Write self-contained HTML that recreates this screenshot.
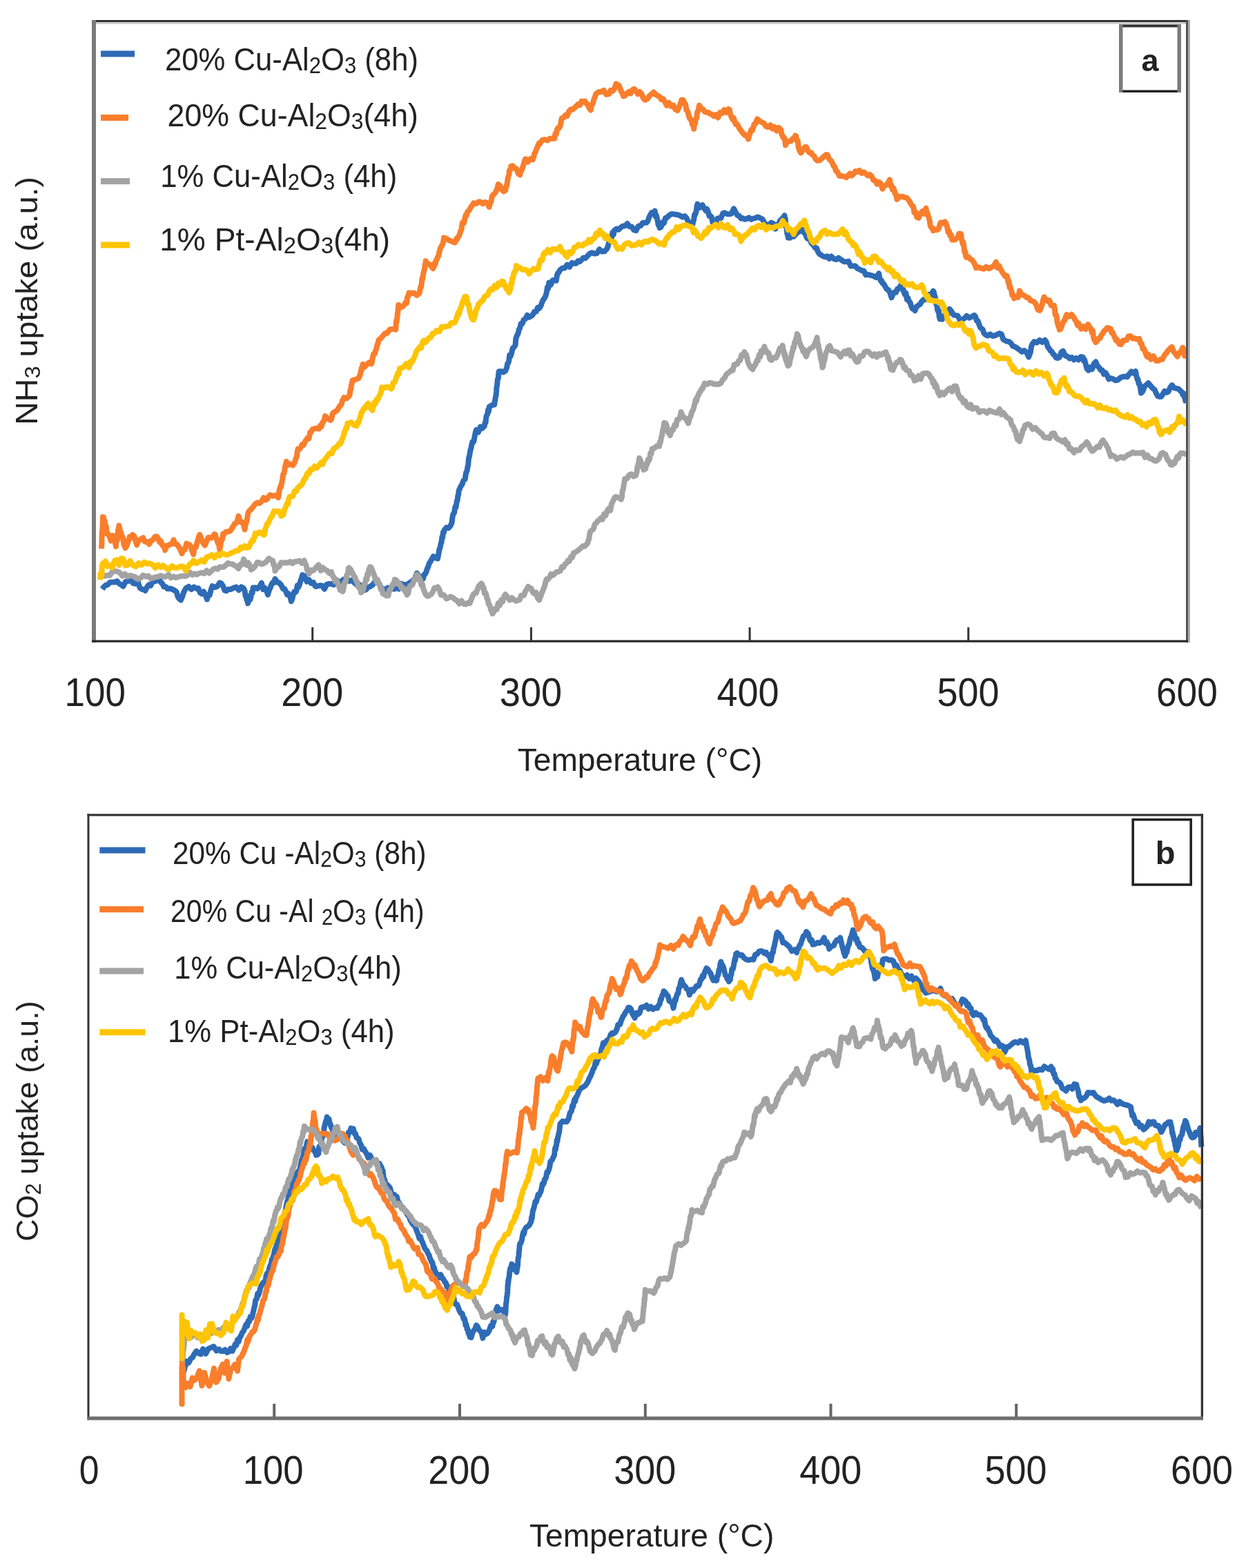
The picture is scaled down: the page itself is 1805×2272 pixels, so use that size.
<!DOCTYPE html>
<html><head><meta charset="utf-8"><title>NH3 and CO2 TPD</title>
<style>html,body{margin:0;padding:0;background:#fff;} svg{display:block;filter:blur(0.75px);}</style>
</head><body>
<svg width="1805" height="2272" viewBox="0 0 1805 2272" font-family="Liberation Sans, Arial, sans-serif" fill="#222">
<rect width="1805" height="2272" fill="#fff"/>
<polyline points="148.1,853.6 150.6,850.2 153.2,847.9 155.7,847.4 159.3,843.8 162.8,843.6 166.4,843.6 169.4,842.0 172.4,845.3 175.5,847.3 178.5,849.5 182.0,842.7 185.6,842.1 189.1,838.6 192.7,845.0 196.2,845.8 199.8,842.9 202.5,851.6 205.1,853.7 207.8,853.9 210.4,855.9 213.1,850.5 215.7,847.3 218.3,848.5 221.0,843.0 224.0,842.4 227.1,841.2 230.1,838.2 232.5,843.3 235.0,845.3 237.4,850.1 239.9,850.1 242.3,853.1 246.9,852.8 251.4,854.7 253.5,856.0 255.6,857.5 257.8,865.1 259.9,867.9 262.0,869.5 263.9,865.2 265.8,859.1 267.7,855.2 269.6,852.2 273.4,849.9 277.2,853.9 281.0,850.6 284.8,852.9 287.3,852.3 289.8,858.7 292.4,860.5 294.9,857.2 297.4,861.2 299.9,868.5 301.8,862.1 303.7,862.2 305.6,854.8 307.5,849.2 311.1,850.9 314.6,849.9 318.2,844.4 320.6,845.3 323.0,849.1 325.5,855.5 327.9,856.2 330.3,854.0 334.3,853.9 338.4,851.9 342.4,850.6 345.9,855.1 349.5,850.4 353.0,852.5 353.9,855.0 354.7,856.5 355.6,863.4 356.5,862.6 357.4,869.3 358.2,868.9 359.1,874.3 360.2,869.8 361.3,867.2 362.4,868.9 363.4,864.7 364.5,858.3 365.6,859.2 366.7,851.6 369.8,851.4 372.8,853.0 375.8,850.0 378.9,844.8 381.2,853.9 383.4,851.7 385.7,855.0 388.0,861.6 389.8,855.3 391.5,851.9 393.2,847.2 395.0,844.1 396.8,844.3 398.5,838.8 401.4,843.6 404.2,844.4 407.1,847.3 410.0,853.1 412.0,853.0 414.0,856.7 415.9,861.7 417.9,860.2 419.9,863.1 421.9,871.3 423.4,867.7 424.9,860.9 426.3,857.5 427.8,858.2 429.3,856.6 430.8,848.6 432.3,850.8 433.8,847.3 435.2,842.4 436.7,838.2 438.2,833.1 441.3,834.6 444.4,842.8 447.5,839.9 450.7,845.0 453.8,843.9 456.9,849.7 460.2,849.3 463.4,848.3 466.7,848.7 470.0,853.5 473.3,846.9 476.7,845.9 480.0,846.0 483.3,847.3 486.7,845.1 490.0,842.1 493.4,845.8 496.7,840.3 500.1,838.4 503.4,839.4 506.3,842.1 509.2,840.9 512.1,843.1 515.0,845.9 518.0,848.7 520.9,847.2 523.8,850.2 526.7,855.3 530.0,854.5 533.2,850.9 536.5,849.7 539.7,847.6 543.0,843.2 546.1,844.0 549.2,845.5 552.4,853.1 555.5,853.2 558.6,856.6 561.7,851.7 565.0,854.9 568.2,852.9 571.5,853.6 574.7,849.8 578.0,853.4 581.1,845.6 584.3,847.3 587.4,847.1 590.5,846.7 593.7,844.1 596.8,842.4 599.1,839.9 601.5,837.6 603.8,830.6 606.9,834.3 609.9,837.3 613.0,838.5 614.5,832.3 616.0,831.6 617.4,828.9 618.9,823.8 620.4,821.0 621.8,816.1 623.3,814.3 624.8,811.3 627.9,806.2 630.9,808.5 634.0,809.4 634.8,805.5 635.6,801.3 636.4,795.9 637.2,795.1 638.0,790.9 638.8,786.8 639.5,786.4 640.3,778.2 641.1,779.6 641.9,771.6 642.7,772.3 643.5,768.4 646.6,764.3 649.7,765.2 652.8,761.5 653.7,759.1 654.5,757.9 655.4,750.2 656.3,745.3 657.2,744.1 658.0,743.4 658.9,737.0 659.8,733.6 660.5,735.3 661.2,730.3 661.9,725.6 662.6,725.3 663.3,718.2 664.0,717.2 664.7,710.8 665.4,709.1 666.1,708.4 666.8,705.8 669.1,702.5 671.5,696.1 673.8,694.4 674.4,689.3 675.1,684.8 675.7,684.0 676.3,683.0 676.9,679.8 677.6,675.6 678.2,674.0 678.8,666.1 679.4,662.2 680.1,660.8 680.7,656.3 681.3,652.7 681.9,650.7 682.6,648.9 683.2,644.8 684.3,640.4 685.5,640.8 686.6,638.7 687.7,631.9 688.9,626.2 690.0,622.8 693.0,626.2 695.9,618.3 698.8,620.5 701.8,617.3 702.7,612.3 703.5,612.3 704.4,603.9 705.3,601.4 706.2,600.4 707.0,594.2 707.9,596.5 708.8,589.2 712.3,587.4 715.8,585.6 716.3,586.3 716.7,581.8 717.2,579.8 717.7,576.7 718.1,574.5 718.6,572.2 719.1,567.1 719.5,560.5 720.0,559.1 720.5,553.8 720.9,549.4 721.4,549.3 721.9,547.7 722.3,540.8 722.8,538.2 725.9,537.9 729.1,539.5 732.2,537.5 733.2,534.8 734.2,532.5 735.2,526.6 736.2,526.0 737.2,523.4 738.2,514.5 739.2,516.9 741.0,512.0 742.7,504.5 744.5,503.2 746.2,500.9 746.7,499.3 747.1,492.3 747.5,490.1 748.0,488.8 749.3,485.3 750.6,483.3 751.9,477.1 753.2,475.4 754.6,469.4 755.9,469.9 757.2,467.6 758.5,463.5 761.1,462.1 763.8,456.8 766.4,459.6 769.0,458.3 771.6,456.4 774.3,451.5 776.9,451.4 779.0,445.6 781.1,446.9 783.2,444.0 785.3,437.9 787.4,433.5 788.5,432.5 789.7,429.9 790.8,428.0 791.9,422.7 793.0,416.2 794.2,418.1 795.3,409.6 797.9,412.7 800.5,406.4 803.2,405.6 805.8,406.7 806.9,399.1 807.9,396.0 809.0,395.4 810.0,393.7 811.1,391.3 814.6,388.5 818.1,388.5 821.6,383.6 825.1,386.8 828.6,380.9 832.1,381.8 834.7,381.8 837.3,378.1 840.0,379.0 842.6,376.2 845.2,373.4 848.4,374.0 851.5,370.4 854.7,367.2 857.8,366.1 861.0,367.6 864.7,367.0 868.4,361.2 872.0,364.5 875.7,364.2 879.4,360.2 880.7,357.2 882.0,351.4 883.3,350.4 884.6,346.9 886.0,344.3 887.3,337.1 888.6,340.3 889.9,333.9 893.1,331.5 896.2,332.7 899.4,329.5 902.5,327.4 905.7,327.2 908.8,324.0 912.0,328.3 915.1,328.5 918.3,333.2 921.4,334.1 924.7,327.7 928.0,327.1 931.2,322.7 934.5,322.8 936.4,322.8 938.3,320.8 940.2,315.3 942.0,311.5 943.9,308.1 945.8,308.3 947.7,307.8 948.7,305.7 949.7,313.4 950.7,311.5 951.7,316.0 952.6,319.5 953.6,325.9 954.6,326.7 955.6,330.2 957.7,328.9 959.8,322.2 961.8,323.3 963.9,316.0 966.0,315.5 969.4,312.0 972.9,309.9 976.3,310.4 979.4,310.8 982.6,311.4 985.7,312.7 988.9,314.6 992.0,313.1 994.6,316.0 997.2,321.6 999.9,324.3 1002.5,326.2 1003.4,325.2 1004.3,320.3 1005.1,318.8 1006.0,311.3 1006.9,311.5 1007.8,308.8 1008.6,306.2 1009.5,299.0 1010.4,295.7 1013.9,300.8 1017.5,296.9 1021.0,303.1 1022.6,305.3 1024.3,303.1 1025.9,306.8 1027.5,313.0 1029.2,312.8 1030.8,314.7 1032.5,322.6 1034.1,322.8 1036.7,323.1 1039.3,316.4 1041.9,316.1 1044.6,315.8 1047.2,309.1 1049.8,308.2 1053.1,310.1 1056.4,310.3 1059.7,309.4 1063.0,302.3 1065.6,307.6 1068.2,311.9 1070.8,312.8 1073.5,316.7 1076.1,316.0 1078.7,317.8 1081.9,317.0 1085.0,315.4 1088.2,317.9 1091.3,316.6 1094.5,315.9 1097.8,314.3 1101.0,315.9 1104.3,317.4 1107.6,323.0 1110.8,325.6 1113.9,326.7 1117.1,322.6 1120.2,324.0 1123.4,331.6 1125.6,325.6 1127.8,325.1 1130.0,319.5 1132.1,317.8 1134.3,315.5 1136.5,312.3 1137.0,316.9 1137.6,316.3 1138.1,324.4 1138.6,328.8 1139.2,327.7 1139.7,332.9 1140.2,338.3 1140.7,339.4 1141.3,341.4 1141.8,344.6 1144.4,344.7 1147.1,339.1 1149.7,342.8 1152.3,340.0 1154.9,337.1 1157.6,335.9 1160.2,332.1 1162.4,333.2 1164.6,337.1 1166.8,339.1 1168.9,344.9 1171.1,346.4 1173.3,345.3 1175.3,352.3 1177.2,353.8 1179.2,356.7 1181.2,359.6 1183.1,359.4 1185.1,365.4 1187.0,367.9 1189.0,369.3 1192.1,371.1 1195.1,372.4 1198.2,371.3 1201.3,374.7 1204.3,371.6 1207.4,374.7 1211.1,376.1 1214.8,373.6 1218.4,376.4 1222.1,378.9 1225.8,379.3 1229.1,378.6 1232.4,385.4 1235.7,385.5 1239.0,385.2 1242.1,389.1 1245.1,390.3 1248.2,391.8 1251.3,392.5 1254.3,398.4 1257.4,397.8 1261.3,398.8 1265.2,399.9 1269.2,402.1 1273.1,396.3 1274.5,403.2 1275.9,407.0 1277.2,406.7 1278.6,410.6 1280.0,411.1 1282.3,415.0 1284.6,419.0 1286.9,420.0 1289.2,423.9 1291.5,431.2 1293.7,426.1 1295.9,423.2 1298.0,423.7 1300.2,418.3 1302.4,418.6 1304.6,413.5 1306.1,417.8 1307.7,415.9 1309.2,422.5 1310.7,426.6 1312.3,424.8 1313.8,433.9 1315.3,431.8 1316.9,436.9 1318.4,438.0 1319.9,443.2 1321.5,447.1 1323.0,446.4 1325.4,450.1 1327.9,444.2 1330.3,442.6 1332.8,440.8 1335.2,436.9 1338.0,433.9 1340.8,434.0 1343.6,430.9 1346.3,426.5 1349.1,427.0 1351.9,421.7 1352.8,423.1 1353.7,427.9 1354.5,429.8 1355.4,433.9 1356.3,441.2 1357.2,442.1 1358.0,448.8 1358.9,451.1 1359.8,449.6 1360.7,459.3 1361.5,462.2 1362.4,459.6 1365.0,462.6 1367.7,456.8 1370.3,454.5 1373.0,455.2 1375.6,447.7 1378.5,451.6 1381.4,456.4 1384.3,456.9 1387.2,457.2 1390.1,462.7 1393.0,463.6 1396.7,461.6 1400.3,457.7 1404.0,460.7 1407.6,459.0 1411.3,456.8 1413.1,458.7 1414.8,464.8 1416.6,465.0 1418.3,470.1 1420.1,474.6 1421.8,476.0 1423.6,477.6 1425.3,482.7 1427.1,484.6 1430.8,486.5 1434.5,484.3 1438.1,486.9 1441.8,486.1 1445.5,484.1 1448.1,483.0 1450.8,484.4 1453.4,491.9 1456.0,493.4 1458.6,494.6 1461.3,495.0 1463.9,496.6 1467.2,501.4 1470.5,502.6 1473.7,504.7 1477.0,507.0 1480.3,509.8 1483.6,507.9 1486.9,510.3 1490.2,517.3 1491.5,513.8 1492.8,510.4 1494.1,501.7 1495.4,498.7 1496.7,497.1 1498.0,495.1 1502.0,496.4 1505.9,492.9 1509.8,495.9 1513.8,492.7 1515.8,495.7 1517.8,502.7 1519.7,504.8 1521.7,508.3 1523.7,509.5 1525.6,513.2 1527.6,514.3 1529.6,518.1 1532.2,518.9 1534.8,517.6 1537.4,510.4 1540.0,508.7 1543.2,515.5 1546.3,516.4 1549.5,519.5 1552.6,517.8 1555.8,521.4 1559.1,518.9 1562.4,521.4 1565.7,517.0 1569.0,517.6 1570.1,522.9 1571.2,521.4 1572.3,525.9 1573.5,530.3 1574.6,534.5 1575.7,534.1 1576.8,536.7 1579.5,532.2 1582.1,534.9 1584.8,526.9 1587.4,524.3 1589.7,530.2 1592.1,532.3 1594.4,536.3 1596.7,536.3 1599.1,542.1 1601.4,540.0 1603.7,543.6 1606.1,549.3 1608.4,548.0 1612.1,548.9 1615.8,551.2 1619.4,550.5 1623.1,547.2 1626.8,545.7 1629.8,545.4 1632.9,546.1 1635.9,541.9 1639.0,538.5 1642.0,540.8 1645.1,538.1 1646.0,543.7 1646.9,547.0 1647.7,550.0 1648.6,550.0 1649.5,555.7 1650.4,555.5 1651.2,558.8 1652.1,562.6 1653.0,569.5 1655.6,566.6 1658.2,559.5 1660.9,557.7 1663.5,555.1 1665.8,557.7 1668.0,560.5 1670.3,563.1 1672.5,564.4 1674.8,569.6 1677.0,573.8 1679.3,574.7 1681.9,574.8 1684.6,571.1 1687.2,566.6 1689.8,568.7 1692.4,567.6 1695.1,561.7 1697.7,558.1 1701.0,562.1 1704.2,562.9 1707.5,563.7 1710.8,567.1 1712.1,568.0 1713.4,572.1 1714.8,570.1 1716.1,576.5 1717.4,581.2 1718.7,582.3" fill="none" stroke="#2e6bb6" stroke-width="8" stroke-linejoin="round" stroke-linecap="butt"/>
<polyline points="147.0,795.0 147.1,791.5 147.3,790.5 147.4,787.4 147.6,777.9 147.7,773.1 147.9,774.2 148.0,769.8 148.1,773.0 148.3,768.4 148.4,764.1 148.6,760.3 148.7,758.4 148.9,749.0 149.0,749.3 150.0,749.5 150.9,761.9 151.9,755.2 152.8,767.9 153.8,762.5 154.7,773.3 155.7,772.6 158.1,775.9 160.6,783.6 163.0,776.1 165.5,779.1 167.9,791.8 168.5,783.6 169.2,775.4 169.8,782.9 170.5,776.8 171.1,767.9 171.8,766.7 172.4,761.5 173.4,766.1 174.4,771.6 175.4,771.8 176.4,778.8 177.5,777.8 178.5,782.0 179.5,789.8 180.5,790.3 181.5,793.8 183.0,791.8 184.6,787.7 186.1,783.8 187.6,778.2 189.1,779.7 190.7,778.0 192.2,774.8 193.4,776.1 194.6,777.3 195.8,780.7 197.0,786.3 198.2,789.5 200.5,783.4 202.8,781.9 205.0,780.5 207.3,779.3 209.3,784.3 211.4,785.3 213.4,785.1 216.1,788.4 218.8,783.6 221.6,782.1 224.3,777.9 227.0,777.2 229.0,780.0 231.1,785.6 233.1,784.1 235.1,790.2 237.2,790.7 239.2,797.2 241.6,790.6 244.1,790.1 246.5,788.5 249.0,788.4 251.4,782.3 253.8,787.8 256.2,788.8 258.7,792.0 261.1,796.1 263.5,802.1 265.8,795.8 268.1,796.0 270.3,787.6 272.6,789.7 274.5,789.3 276.4,791.5 278.3,798.7 280.2,803.2 281.5,793.8 282.8,792.3 284.1,792.5 285.4,786.4 286.7,782.4 288.0,777.6 289.3,774.6 291.8,781.5 294.4,787.1 296.9,790.2 299.2,784.5 301.5,779.0 303.8,778.7 306.0,779.6 308.3,777.6 310.6,774.0 311.9,774.6 313.1,779.9 314.4,782.8 315.7,787.2 316.9,788.0 318.2,795.9 319.2,792.0 320.2,783.5 321.2,780.8 322.2,781.2 323.2,773.6 324.2,774.6 327.2,770.6 330.3,770.6 333.3,769.5 336.4,765.1 338.2,762.2 340.0,758.7 341.9,758.3 343.7,755.0 345.5,747.9 347.3,755.7 349.1,755.3 351.0,756.8 352.8,760.8 354.6,767.3 355.4,761.2 356.1,758.4 356.9,757.2 357.6,754.2 358.4,749.6 359.2,744.1 359.9,742.0 360.7,740.9 363.7,737.9 366.8,734.2 369.8,730.3 372.8,728.2 375.9,729.2 378.9,726.5 381.9,721.2 385.0,724.4 387.2,722.9 389.3,719.3 391.5,717.1 395.4,718.7 399.3,717.7 403.2,721.0 404.0,714.9 404.8,709.7 405.5,708.2 406.3,704.7 407.1,705.6 407.9,700.7 408.7,696.4 409.4,693.7 410.2,687.0 411.0,686.6 411.8,684.4 412.6,679.1 413.3,674.8 414.1,672.6 414.9,668.8 418.0,673.6 421.1,672.2 424.2,674.2 425.3,672.4 426.3,671.7 427.4,668.8 428.4,664.8 429.5,663.4 430.5,656.2 431.6,650.6 433.6,651.2 435.7,648.4 437.7,644.0 439.7,644.8 441.8,640.1 443.8,636.8 445.6,634.4 447.4,635.5 449.3,626.1 451.1,625.5 452.9,621.9 457.4,620.6 462.0,621.4 463.8,616.7 465.6,618.1 467.4,611.9 469.2,609.9 471.0,602.9 474.9,606.5 478.7,608.9 480.2,607.1 481.7,599.7 483.2,597.7 484.7,597.0 488.5,594.6 492.3,588.1 493.5,587.2 494.7,585.7 496.0,580.2 497.2,579.0 498.4,575.9 502.2,577.3 506.0,573.7 506.8,571.0 507.5,565.2 508.2,564.2 509.0,557.9 509.8,555.5 510.5,551.1 515.0,549.9 519.6,548.0 520.6,545.1 521.6,543.7 522.7,538.2 523.7,533.3 524.7,534.9 525.7,527.8 528.8,531.1 531.8,527.7 534.9,525.1 537.9,527.2 539.0,524.4 540.0,517.4 541.1,513.1 542.1,513.5 543.2,511.9 544.3,507.3 545.3,505.4 546.4,499.9 547.4,498.2 548.5,492.8 550.9,491.0 553.3,488.1 555.8,485.4 558.2,482.8 560.6,482.8 564.7,477.5 568.7,476.7 572.8,476.0 573.2,477.6 573.7,471.2 574.1,464.6 574.6,466.6 575.0,463.5 575.5,459.8 575.9,453.4 576.4,452.6 576.8,446.3 577.3,441.8 580.9,445.3 584.4,443.5 588.0,437.7 589.1,439.3 590.2,430.4 591.4,429.3 592.5,424.3 596.3,425.0 600.1,424.6 603.9,427.9 607.7,424.7 608.3,420.8 608.9,417.6 609.5,415.3 610.1,415.9 610.7,411.0 611.3,404.4 611.9,405.1 612.5,401.0 613.1,397.2 613.7,394.6 614.3,392.2 614.9,390.1 615.5,384.9 616.1,382.6 616.7,378.3 619.3,382.0 622.0,383.0 624.6,385.8 627.2,389.1 628.3,387.5 629.5,381.5 630.6,382.9 631.7,376.9 632.8,376.4 634.0,372.3 635.1,371.1 636.2,366.2 637.4,361.5 638.5,358.4 639.6,356.7 640.7,354.7 641.9,352.3 643.0,344.5 646.1,345.6 649.3,347.5 652.4,348.9 655.6,350.2 658.7,351.5 659.9,349.9 661.2,345.9 662.4,346.6 663.6,343.0 664.8,342.2 666.1,339.0 667.3,334.4 668.5,332.6 669.7,323.2 671.0,321.4 672.2,323.0 673.4,316.8 674.6,311.8 675.9,312.4 677.1,307.0 679.4,305.2 681.6,301.0 683.9,297.9 686.1,294.2 688.4,295.1 690.6,294.8 692.9,292.4 696.0,292.5 699.2,295.2 702.3,292.9 705.5,294.0 708.6,299.9 710.1,294.5 711.5,291.7 713.0,284.1 714.5,282.3 715.9,280.8 717.4,279.3 718.9,276.7 720.3,273.1 721.8,267.0 724.4,269.3 727.0,274.5 729.7,277.4 732.3,275.9 733.0,270.6 733.7,270.2 734.5,266.2 735.2,261.7 735.9,257.4 736.6,255.1 737.3,253.3 738.0,246.7 738.8,246.2 739.5,245.6 740.2,240.9 742.8,240.2 745.4,243.9 748.1,244.4 750.7,251.4 753.3,253.3 754.4,247.2 755.6,246.7 756.7,244.0 757.8,240.9 758.9,236.5 760.1,233.0 761.2,230.3 764.7,234.7 768.2,230.1 771.7,231.3 773.0,227.7 774.3,222.5 775.6,220.8 777.0,216.1 778.3,213.7 779.6,210.7 780.9,207.3 782.2,208.0 785.7,202.8 789.2,202.1 792.7,203.5 796.2,200.8 799.7,200.8 803.2,200.8 804.5,193.6 805.8,194.4 807.1,187.3 808.5,185.0 809.8,185.5 811.1,183.5 812.4,178.1 813.7,171.4 816.3,170.5 819.0,166.9 821.6,168.0 824.2,161.3 826.9,158.4 829.5,158.7 832.1,156.5 834.7,154.0 837.4,151.1 840.0,152.2 842.6,146.6 845.2,147.7 847.3,146.6 849.4,149.7 851.5,151.6 853.6,156.6 855.7,159.5 856.8,152.7 858.0,151.2 859.1,149.2 860.2,144.3 861.3,142.0 862.5,138.4 863.6,135.7 867.3,133.2 871.0,132.9 874.6,131.0 878.3,136.9 882.0,136.2 884.6,130.8 887.2,132.1 889.9,129.0 892.5,121.3 895.1,123.3 896.2,123.5 897.4,125.7 898.5,128.4 899.6,132.4 900.7,133.0 901.9,135.9 903.0,139.4 905.6,138.5 908.3,135.3 910.9,132.9 913.5,135.5 916.2,130.3 918.8,128.8 921.4,131.8 924.0,136.2 926.6,133.0 929.3,135.8 931.9,142.3 934.5,144.8 937.6,143.4 940.7,139.1 943.8,136.4 946.9,133.6 950.0,137.0 952.6,138.6 955.3,139.8 957.9,144.1 960.5,143.1 963.2,147.6 965.8,152.8 968.9,148.9 972.1,153.9 975.2,152.5 978.4,158.5 981.5,160.1 983.5,155.5 985.5,150.8 987.4,144.7 989.4,144.7 990.6,146.8 991.8,150.1 993.0,150.9 994.3,159.7 995.5,160.0 996.7,163.3 997.9,168.2 999.1,171.6 1000.3,172.2 1001.6,175.2 1002.8,180.3 1004.0,180.1 1005.2,186.7 1006.0,177.6 1006.8,179.7 1007.5,174.7 1008.3,172.2 1009.1,171.6 1009.9,163.2 1010.7,161.3 1011.4,160.8 1012.2,157.3 1013.0,152.7 1015.6,156.7 1018.3,158.3 1020.9,161.9 1023.5,162.8 1026.2,163.1 1028.8,164.9 1031.5,165.8 1034.1,168.4 1037.1,166.0 1040.1,170.5 1043.1,162.9 1046.1,164.2 1049.1,159.1 1052.1,162.9 1055.1,158.0 1056.6,158.6 1058.1,166.0 1059.6,169.2 1061.1,173.0 1062.6,170.9 1064.1,175.1 1065.6,179.9 1067.9,179.9 1070.2,184.5 1072.5,188.0 1074.8,191.0 1077.1,194.1 1079.4,196.3 1081.7,195.7 1084.0,201.5 1085.5,196.4 1086.9,191.7 1088.4,187.8 1089.8,189.0 1091.3,184.3 1092.7,179.6 1094.2,179.4 1095.6,175.9 1097.1,172.4 1100.3,175.6 1103.4,177.0 1106.6,178.5 1109.7,183.2 1112.9,184.2 1116.0,181.3 1119.0,186.6 1122.1,184.1 1125.2,189.6 1128.2,185.0 1131.3,188.1 1132.4,195.2 1133.5,196.4 1134.6,199.7 1135.8,199.3 1136.9,201.7 1138.0,210.4 1139.1,207.3 1141.3,205.5 1143.5,204.6 1145.7,204.6 1147.9,201.1 1150.1,200.6 1152.3,196.5 1153.2,197.4 1154.1,203.8 1154.9,203.0 1155.8,204.4 1156.7,213.8 1157.6,216.5 1158.4,218.2 1159.3,220.2 1160.2,221.5 1162.2,219.0 1164.1,215.3 1166.0,212.9 1168.0,212.9 1170.3,218.3 1172.5,221.2 1174.8,220.9 1177.0,224.6 1179.3,225.9 1181.5,230.6 1183.8,232.7 1187.1,232.6 1190.3,229.8 1193.6,226.7 1196.9,224.1 1198.7,224.2 1200.4,229.1 1202.2,231.9 1203.9,232.8 1205.7,236.0 1207.4,240.4 1209.2,241.7 1210.9,247.6 1212.7,248.5 1216.0,255.0 1219.2,254.9 1222.5,255.7 1225.8,257.2 1228.4,254.8 1231.1,251.4 1233.7,254.4 1236.4,252.0 1239.0,248.1 1242.0,249.2 1245.0,246.9 1248.0,250.8 1251.0,249.3 1254.0,251.5 1257.0,254.5 1260.0,252.8 1262.6,255.4 1265.3,261.1 1267.9,261.6 1270.5,266.6 1273.1,263.9 1275.8,265.7 1278.4,273.7 1281.0,269.5 1283.7,268.1 1286.3,265.2 1288.9,260.5 1290.2,269.1 1291.5,268.8 1292.8,274.5 1294.2,272.3 1295.5,276.1 1296.8,280.9 1298.1,281.8 1299.4,288.9 1303.1,285.4 1306.8,284.7 1310.4,285.8 1314.1,287.0 1317.8,292.1 1319.1,295.0 1320.4,296.8 1321.7,298.5 1323.0,299.1 1324.4,307.8 1325.7,306.3 1327.0,310.1 1328.3,315.0 1330.9,315.8 1333.5,309.0 1336.2,306.1 1338.8,309.8 1341.4,301.6 1342.5,309.6 1343.5,308.8 1344.6,313.0 1345.6,315.5 1346.7,320.2 1347.7,326.7 1348.8,329.3 1349.8,330.3 1350.9,330.4 1351.9,334.2 1354.5,332.4 1357.2,333.2 1359.8,331.4 1362.4,322.7 1365.1,322.2 1367.7,323.8 1369.2,321.5 1370.6,324.3 1372.1,328.7 1373.5,336.2 1375.0,335.1 1376.4,341.5 1377.9,340.6 1379.3,347.5 1380.8,347.3 1382.9,347.6 1385.0,346.0 1387.1,344.3 1389.2,338.6 1391.3,339.7 1392.1,339.1 1392.9,346.1 1393.7,349.3 1394.5,353.2 1395.3,350.4 1396.0,354.9 1396.8,361.2 1397.6,365.8 1398.4,364.9 1399.2,371.7 1400.0,373.0 1402.8,372.2 1405.6,375.2 1408.4,377.1 1411.2,381.0 1414.0,388.2 1417.7,387.0 1421.4,388.8 1425.0,389.7 1428.7,386.7 1432.4,389.2 1435.9,387.2 1439.4,385.7 1442.9,379.8 1445.1,387.9 1447.4,385.5 1449.6,390.1 1451.9,394.4 1454.1,397.4 1456.4,400.6 1458.6,399.7 1459.6,402.7 1460.5,408.8 1461.5,407.2 1462.4,416.0 1463.4,415.3 1464.3,418.9 1465.3,421.5 1466.2,427.3 1467.2,426.8 1468.1,429.6 1469.1,432.3 1471.1,430.1 1473.0,430.8 1475.0,430.7 1477.0,421.3 1479.6,426.3 1482.3,427.5 1484.9,429.0 1487.5,431.1 1490.1,431.4 1492.8,435.4 1495.4,436.2 1498.0,437.4 1500.7,440.6 1503.3,448.6 1505.9,449.8 1507.2,448.5 1508.5,444.3 1509.8,440.8 1511.2,434.2 1512.5,430.4 1513.8,433.3 1516.0,433.9 1518.2,436.7 1520.4,435.4 1522.6,442.5 1524.8,443.3 1527.0,442.9 1527.8,447.1 1528.6,455.7 1529.3,456.8 1530.1,456.6 1530.9,459.9 1531.7,467.9 1532.5,468.6 1533.2,472.8 1534.0,473.9 1534.8,477.6 1536.3,476.8 1537.8,473.3 1539.3,468.7 1540.8,465.4 1542.3,464.4 1543.8,459.2 1545.3,455.8 1548.8,458.6 1552.3,455.7 1555.8,460.4 1557.5,463.7 1559.3,466.3 1561.0,471.1 1562.8,468.8 1564.5,473.6 1566.3,476.6 1569.6,473.0 1572.9,477.0 1576.2,470.2 1579.5,475.3 1580.6,476.6 1581.8,482.0 1582.9,479.1 1584.0,488.2 1585.1,492.0 1586.3,494.1 1587.4,496.1 1589.4,494.0 1591.5,490.2 1593.5,490.1 1595.5,485.6 1597.6,482.8 1599.6,479.2 1601.6,478.1 1603.7,475.2 1605.7,475.0 1607.3,476.7 1608.9,476.6 1610.4,482.1 1612.0,481.7 1613.6,486.3 1615.2,489.5 1616.8,493.7 1618.3,492.1 1619.9,495.5 1621.5,498.6 1624.1,499.0 1626.7,493.3 1629.4,493.3 1632.0,492.9 1634.6,487.2 1637.8,486.9 1640.9,490.5 1644.1,490.3 1647.2,491.5 1650.4,490.8 1652.0,497.2 1653.7,497.8 1655.3,505.1 1657.0,504.8 1658.6,509.0 1660.2,513.6 1661.9,516.9 1663.5,513.3 1667.2,520.6 1670.9,516.0 1674.5,522.8 1678.2,522.8 1681.9,520.2 1683.8,520.7 1685.6,517.1 1687.5,513.7 1689.4,512.2 1691.3,508.5 1693.1,507.2 1695.0,504.8 1697.7,502.8 1700.3,509.7 1702.9,512.8 1705.6,516.5 1708.2,511.6 1710.8,509.0 1713.4,503.7 1714.7,507.3 1716.1,515.3 1717.4,512.9 1718.7,519.2" fill="none" stroke="#f97e2c" stroke-width="8" stroke-linejoin="round" stroke-linecap="butt"/>
<polyline points="145.0,835.4 148.6,832.7 152.1,834.6 155.7,833.6 159.3,833.7 162.8,828.2 166.4,827.5 170.0,828.1 173.7,829.9 177.3,834.6 181.0,831.7 184.6,835.6 188.4,833.8 192.2,834.8 196.0,836.1 199.8,839.2 203.6,837.6 207.4,833.6 211.1,835.4 214.9,834.5 218.5,838.5 222.2,837.2 225.8,836.2 229.5,835.4 233.1,834.0 236.8,836.0 240.4,835.5 244.1,832.5 247.7,837.2 251.4,835.3 255.0,837.1 258.7,835.8 262.3,834.9 266.0,834.5 269.6,834.9 272.6,832.6 275.6,829.7 278.7,833.0 281.7,831.3 285.2,832.6 288.8,830.6 292.4,829.7 295.9,831.0 299.4,826.8 303.0,830.5 306.0,827.7 309.1,824.7 312.1,823.6 315.2,824.6 318.2,821.5 321.2,821.7 324.2,821.5 327.3,818.8 330.3,815.8 333.3,817.0 336.4,817.2 339.4,819.1 342.4,820.7 345.5,823.8 347.4,818.4 349.2,818.9 351.1,817.6 353.0,810.3 355.1,815.0 357.3,818.9 359.4,815.3 361.6,818.3 363.7,825.3 366.7,823.5 369.8,820.1 372.8,814.8 375.9,815.4 378.9,817.4 381.9,816.4 385.0,814.7 389.5,809.1 394.0,812.0 395.1,812.3 396.2,818.3 397.4,817.9 398.5,827.2 401.4,822.4 404.4,820.9 407.3,815.1 410.2,815.6 413.6,815.3 417.0,815.4 420.3,813.8 423.7,816.3 427.1,813.7 430.5,813.4 433.8,812.5 437.2,816.1 440.6,812.2 442.0,816.2 443.4,818.4 444.8,825.5 446.2,828.1 447.6,831.3 450.4,826.0 453.2,826.9 456.0,824.4 458.8,820.9 461.6,818.4 464.7,826.8 467.7,822.5 470.8,825.4 473.9,826.8 476.9,830.6 480.0,828.7 481.8,834.3 483.6,836.4 485.4,842.4 487.2,839.7 489.1,844.8 490.9,848.7 492.7,854.8 494.5,854.6 496.3,857.1 497.2,855.3 498.0,849.5 498.9,844.5 499.7,844.5 500.6,844.1 501.4,839.8 502.3,833.3 503.1,833.0 504.0,831.0 504.8,823.7 505.7,822.8 507.1,824.1 508.6,826.2 510.0,829.4 511.5,831.7 512.9,835.6 514.3,836.3 515.8,841.6 517.2,842.4 518.6,849.8 520.1,851.6 521.5,850.5 523.0,858.6 524.4,857.5 525.4,856.4 526.3,853.7 527.3,849.1 528.3,845.7 529.2,843.6 530.2,838.4 531.2,840.3 532.1,832.0 533.1,833.7 534.1,826.5 535.0,824.0 536.0,821.4 537.6,822.0 539.1,825.6 540.7,830.1 542.2,833.6 543.8,839.6 545.4,843.3 546.9,839.8 548.5,846.1 550.0,846.3 551.6,853.9 553.2,853.6 554.7,860.4 556.3,861.0 557.8,861.1 559.4,863.2 561.0,861.8 562.5,862.9 564.1,854.9 565.6,854.0 567.2,850.2 568.7,846.9 570.3,846.9 571.8,839.8 573.4,840.1 575.4,842.4 577.5,846.8 579.5,846.6 581.5,852.0 583.6,851.3 585.6,854.8 587.7,857.8 589.7,861.9 591.3,859.5 592.8,851.3 594.4,848.6 596.0,848.5 597.5,847.5 599.1,842.8 600.7,838.3 602.2,840.0 603.8,832.6 605.4,834.2 607.0,837.0 608.7,839.9 610.3,847.7 611.9,846.5 613.5,853.6 615.1,857.7 616.8,861.6 618.4,863.4 620.0,863.8 622.4,862.3 624.7,861.0 627.1,857.4 629.4,851.7 631.8,852.1 634.1,850.4 636.5,854.6 638.8,862.1 641.2,861.3 643.5,862.7 646.6,867.4 649.7,866.3 652.8,864.4 655.8,865.8 658.9,868.5 662.0,870.2 665.3,874.7 668.6,870.5 671.9,875.1 675.2,875.5 678.5,873.0 680.4,874.2 682.2,869.8 684.1,865.1 686.0,860.8 687.9,859.3 689.7,859.5 691.6,854.2 693.5,849.1 695.3,847.6 697.2,845.4 698.4,846.5 699.5,852.1 700.7,851.4 701.9,859.8 703.0,858.4 704.2,860.9 705.4,867.2 706.5,868.3 707.7,875.2 708.8,875.6 710.0,878.7 711.2,883.9 712.3,882.7 713.5,889.3 715.6,886.0 717.7,881.9 719.7,883.0 721.8,874.0 723.9,877.1 726.0,869.6 728.0,871.8 730.1,864.5 732.2,861.3 735.3,865.5 738.4,869.5 741.5,866.2 744.6,868.9 747.7,870.9 750.8,869.6 752.8,868.9 754.9,862.7 757.0,863.1 759.0,862.6 761.0,857.1 763.1,853.6 765.2,849.9 767.2,851.7 769.5,852.5 771.9,858.5 774.2,860.1 776.5,858.4 778.9,866.7 781.2,869.5 782.5,865.6 783.8,862.6 785.1,858.5 786.4,855.7 787.8,852.2 789.1,848.6 790.4,843.2 791.7,839.2 793.0,840.1 795.7,837.3 798.3,831.6 801.0,833.6 803.6,831.3 806.3,828.7 808.9,828.5 811.6,827.2 814.0,821.4 816.3,822.0 818.6,817.5 821.0,815.7 823.0,812.0 825.0,812.8 827.0,806.9 829.0,807.6 831.0,800.8 833.0,800.4 835.0,799.4 838.1,797.0 841.2,794.2 844.3,791.3 847.1,791.4 850.0,788.3 851.1,787.4 852.1,783.5 853.2,781.2 854.2,773.8 855.3,769.9 857.4,768.3 859.5,766.9 861.6,759.7 863.7,758.0 865.8,754.9 868.1,753.5 870.4,750.7 872.7,752.6 875.0,744.8 877.3,747.1 879.6,740.2 881.9,736.9 884.2,739.5 885.8,730.4 887.3,727.4 888.9,724.4 890.4,720.8 892.0,719.8 896.0,721.2 900.0,723.5 900.5,719.1 901.0,720.3 901.6,712.5 902.1,710.3 902.6,709.2 903.1,707.9 903.6,703.0 904.2,699.9 904.7,696.5 905.2,693.7 908.4,693.6 911.5,688.3 914.7,687.0 917.8,690.4 921.0,689.1 921.7,685.8 922.5,684.2 923.2,676.7 924.0,676.9 924.7,671.6 925.5,668.2 926.2,663.7 927.8,667.1 929.3,672.3 930.9,675.2 932.4,680.8 934.0,679.7 935.2,679.5 936.4,672.0 937.5,672.6 938.7,666.0 939.9,667.6 941.1,665.1 942.2,657.1 943.4,657.6 944.6,650.4 948.1,649.2 951.5,646.1 955.0,646.6 955.8,640.9 956.6,641.6 957.4,637.3 958.2,632.8 959.0,631.4 959.8,624.7 960.6,622.0 961.4,618.8 962.2,612.9 963.0,615.5 964.3,613.2 965.6,616.3 966.9,624.1 968.2,627.3 969.5,627.9 970.8,630.8 972.2,626.0 973.7,622.2 975.1,622.8 976.5,618.1 978.0,614.6 979.4,616.8 980.9,607.9 982.3,607.4 983.7,607.2 985.2,604.3 986.6,597.0 989.2,604.0 991.9,605.4 994.5,608.5 997.1,613.2 998.3,609.1 999.5,604.7 1000.7,602.7 1001.9,597.7 1003.1,595.1 1004.2,593.8 1005.4,589.3 1006.6,584.6 1007.8,579.0 1009.0,581.2 1010.2,575.0 1011.7,572.6 1013.2,568.6 1014.7,567.4 1016.3,563.4 1017.8,563.3 1019.3,558.7 1020.8,555.4 1024.3,556.9 1027.8,554.6 1031.3,555.2 1034.8,556.7 1038.3,556.5 1041.8,556.7 1044.4,555.1 1047.0,550.2 1049.7,547.6 1052.3,542.5 1054.9,540.2 1057.1,538.9 1059.3,536.7 1061.5,536.8 1063.6,528.4 1065.8,527.8 1068.0,527.8 1070.1,522.8 1072.2,522.2 1074.3,514.4 1076.4,515.4 1078.5,509.9 1079.8,514.1 1081.1,514.0 1082.4,519.6 1083.8,525.6 1085.1,528.4 1086.4,530.6 1087.7,532.9 1089.0,533.6 1090.5,535.2 1092.1,530.6 1093.6,529.7 1095.1,526.1 1096.7,521.8 1098.2,522.1 1099.7,514.2 1101.3,517.0 1102.8,508.2 1104.3,511.4 1105.9,505.9 1107.4,502.1 1108.9,508.5 1110.4,508.6 1111.9,511.6 1113.5,511.6 1115.0,519.6 1116.5,521.5 1118.0,521.8 1120.0,518.3 1121.9,517.8 1123.9,518.6 1125.8,515.6 1127.8,510.2 1129.8,504.6 1131.7,507.4 1133.7,500.5 1134.6,507.3 1135.5,508.9 1136.3,515.3 1137.2,512.9 1138.1,520.6 1139.0,523.3 1139.8,521.7 1140.7,528.6 1141.6,530.0 1142.5,529.5 1143.5,528.2 1144.4,523.0 1145.3,518.6 1146.3,516.2 1147.2,510.6 1148.2,508.9 1149.1,503.3 1150.0,504.2 1151.0,496.6 1151.9,496.5 1152.8,491.0 1153.8,490.4 1154.7,483.8 1156.2,486.8 1157.6,494.1 1159.1,497.9 1160.6,502.3 1162.0,504.1 1163.5,509.4 1165.0,506.8 1166.4,513.4 1167.9,516.6 1169.9,510.5 1171.8,507.3 1173.8,505.0 1175.8,504.0 1177.7,502.8 1179.7,499.4 1181.6,495.5 1183.6,489.1 1184.3,496.8 1184.9,498.7 1185.6,499.6 1186.2,505.9 1186.9,506.7 1187.5,510.4 1188.2,514.7 1188.9,520.0 1189.5,518.9 1190.2,524.4 1190.8,526.3 1191.5,532.6 1192.4,530.3 1193.3,523.4 1194.1,523.3 1195.0,518.3 1195.9,513.4 1196.8,510.6 1197.6,509.2 1198.5,507.8 1199.4,503.2 1202.0,501.0 1204.7,508.2 1207.3,508.7 1209.9,509.5 1212.5,510.2 1215.2,513.4 1217.8,517.0 1220.4,512.2 1223.0,509.3 1225.7,512.4 1228.3,507.4 1230.5,507.5 1232.7,515.7 1234.8,513.0 1237.0,517.4 1239.2,521.8 1241.4,524.7 1243.6,523.7 1245.8,516.1 1248.0,516.2 1250.1,515.6 1252.3,510.2 1254.5,509.3 1257.7,509.2 1260.8,512.4 1264.0,515.7 1267.1,513.0 1270.3,517.3 1273.6,512.7 1276.8,514.4 1280.1,511.6 1283.4,510.2 1284.3,513.6 1285.2,514.9 1286.0,520.5 1286.9,518.3 1287.8,524.4 1288.7,524.2 1289.5,530.8 1290.4,534.8 1291.3,535.2 1293.3,536.4 1295.4,531.2 1297.4,527.2 1299.5,524.7 1301.5,524.9 1303.6,521.1 1305.5,521.4 1307.4,525.8 1309.4,533.0 1311.3,532.2 1313.2,536.3 1315.1,537.2 1317.0,537.4 1318.9,543.7 1320.9,543.6 1322.8,545.6 1324.7,551.6 1327.7,550.5 1330.7,544.4 1333.7,549.3 1336.7,541.5 1339.7,541.0 1342.7,540.5 1345.7,542.2 1347.1,544.7 1348.6,547.6 1350.0,548.3 1351.4,554.5 1352.8,552.1 1354.3,560.6 1355.7,557.3 1357.1,560.8 1358.5,567.8 1360.0,570.8 1361.4,573.0 1364.4,568.8 1367.3,571.7 1370.3,568.0 1373.2,564.6 1376.2,562.5 1379.2,567.3 1382.1,559.6 1385.1,559.4 1386.4,563.4 1387.7,570.1 1389.0,572.7 1390.4,575.9 1391.7,577.5 1393.0,576.4 1395.6,583.2 1398.2,581.3 1400.8,588.4 1403.5,590.4 1406.1,586.1 1408.7,592.5 1411.3,591.0 1415.0,591.2 1418.7,597.4 1422.3,595.5 1426.0,595.6 1429.7,598.4 1433.4,594.5 1437.1,596.4 1440.7,597.5 1444.4,598.4 1448.1,592.8 1450.7,600.7 1453.4,598.0 1456.0,601.3 1458.6,604.8 1461.3,606.3 1463.9,608.4 1465.4,615.5 1466.8,616.9 1468.3,618.7 1469.7,624.1 1471.2,624.6 1472.6,631.6 1474.1,636.8 1475.5,636.6 1477.0,639.5 1478.1,635.9 1479.3,632.3 1480.4,629.3 1481.5,624.3 1482.6,621.8 1483.8,621.1 1484.9,616.3 1488.6,614.5 1492.3,616.1 1495.9,621.9 1499.6,619.6 1503.3,623.9 1505.4,625.1 1507.5,627.8 1509.6,628.6 1511.7,632.7 1513.8,634.2 1517.1,633.6 1520.4,635.2 1523.7,628.2 1527.0,627.7 1530.1,634.4 1533.3,636.7 1536.4,638.0 1539.6,640.4 1542.7,637.3 1544.9,644.1 1547.1,642.7 1549.2,650.3 1551.4,649.8 1553.6,653.1 1555.8,655.9 1558.4,651.9 1561.1,652.5 1563.7,652.6 1566.3,648.0 1568.9,646.0 1571.6,643.7 1574.2,640.6 1576.8,643.9 1579.5,650.2 1582.1,653.7 1584.7,652.3 1587.3,649.1 1590.0,646.8 1592.6,647.8 1595.3,641.0 1597.9,637.8 1599.8,641.8 1601.6,643.2 1603.5,646.6 1605.4,650.2 1607.3,656.1 1609.1,661.0 1611.0,659.5 1614.5,661.4 1618.0,665.2 1621.5,663.1 1624.7,661.9 1627.8,663.7 1631.0,661.4 1634.1,659.0 1637.3,657.9 1641.0,655.2 1644.7,656.9 1648.3,656.3 1652.0,656.7 1655.7,655.6 1658.8,662.7 1662.0,659.4 1665.1,664.2 1668.3,664.7 1671.4,667.0 1674.0,668.1 1676.6,666.9 1679.3,664.2 1681.9,657.3 1684.5,656.1 1686.4,658.0 1688.3,658.2 1690.2,663.2 1692.0,667.1 1693.9,668.3 1695.8,673.5 1697.7,673.8 1699.6,670.2 1701.4,671.6 1703.3,666.8 1705.2,662.0 1707.1,663.8 1708.9,658.3 1710.8,656.5 1714.8,656.9 1718.7,658.5" fill="none" stroke="#a3a3a3" stroke-width="8" stroke-linejoin="round" stroke-linecap="butt"/>
<polyline points="145.0,840.0 145.6,831.2 146.2,836.3 146.8,832.4 147.3,833.2 147.9,820.5 148.5,817.1 149.1,820.5 149.7,816.2 152.7,813.3 155.8,820.7 158.8,818.8 162.6,822.5 166.4,811.8 169.4,811.2 172.5,818.7 175.5,809.1 178.5,809.7 181.6,819.4 184.6,818.9 188.6,812.7 192.7,818.9 196.7,821.0 200.8,815.9 204.8,818.7 208.9,814.5 212.9,817.0 217.0,816.3 221.0,818.2 225.0,823.0 229.1,818.5 233.1,822.0 236.2,819.4 239.2,821.7 242.2,824.6 245.3,824.5 249.3,820.1 253.4,822.8 257.4,822.6 261.5,820.5 265.5,820.9 269.6,827.2 272.2,822.1 274.9,817.3 277.6,816.4 280.2,812.2 284.2,816.1 288.3,814.1 292.3,811.4 295.9,814.2 299.4,807.2 303.0,806.5 306.8,804.0 310.6,808.1 314.4,803.1 318.2,805.2 322.0,801.5 325.8,803.4 329.5,804.0 333.3,802.2 336.3,800.5 339.4,799.5 342.4,797.9 345.5,797.8 348.5,793.1 351.5,794.2 354.6,791.1 357.6,793.8 360.7,792.8 363.7,785.4 365.2,782.8 366.7,783.6 368.2,779.7 369.8,772.9 371.3,774.5 372.8,773.1 375.8,771.1 378.9,772.1 381.9,775.1 383.1,774.3 384.3,766.4 385.6,763.3 386.8,759.2 388.0,758.9 390.0,754.7 392.0,750.2 394.0,748.1 396.0,742.6 397.2,740.5 398.5,741.1 401.4,740.7 404.4,740.9 407.3,747.7 410.2,746.0 411.4,742.1 412.5,737.4 413.7,735.0 414.9,732.2 416.0,729.2 417.2,730.3 418.3,723.0 419.5,719.7 421.9,719.4 424.2,718.8 426.6,711.8 428.9,712.2 431.2,706.8 433.6,705.4 435.4,702.9 437.2,702.5 439.0,698.4 440.8,693.9 442.6,693.4 444.4,687.4 446.2,684.8 448.0,685.9 449.8,680.3 452.8,680.3 455.9,675.5 458.9,678.0 462.0,674.4 465.0,670.3 467.3,672.7 469.6,667.2 471.9,664.1 474.1,661.3 476.4,657.9 478.7,656.3 480.8,657.1 482.9,650.9 485.0,649.3 487.0,648.1 489.1,646.3 491.2,642.7 493.3,643.0 495.4,636.9 496.5,634.5 497.7,631.6 498.8,626.4 499.9,623.8 501.1,620.1 502.2,620.8 503.4,613.6 504.5,613.9 508.5,611.9 512.6,615.8 516.6,616.9 518.0,611.8 519.3,612.7 520.7,607.8 522.1,604.1 523.5,597.6 524.8,597.0 526.2,593.0 527.6,591.4 528.9,591.5 530.3,588.0 533.3,584.5 536.4,590.7 539.4,594.5 540.9,588.8 542.4,582.7 544.0,584.9 545.5,578.9 547.0,579.6 548.5,575.9 550.0,572.5 551.6,570.2 553.1,561.3 554.6,563.2 558.6,560.9 562.7,560.7 566.7,563.4 568.1,561.6 569.4,554.5 570.8,554.3 572.2,553.4 573.5,548.2 574.9,545.3 576.3,540.5 577.7,541.9 579.0,533.8 580.4,533.5 584.4,532.3 588.5,526.9 592.5,532.7 594.3,524.2 596.0,526.1 597.8,522.4 599.6,518.9 601.3,515.3 603.1,508.9 605.4,506.4 607.7,503.0 610.0,504.2 612.2,495.3 614.5,493.2 616.8,496.0 619.2,492.5 621.6,489.4 624.1,488.8 626.5,483.3 628.9,483.0 632.6,478.8 636.3,480.4 640.0,473.3 643.6,473.8 647.2,472.9 650.8,472.4 653.4,467.9 656.0,467.7 658.7,467.7 661.3,461.9 662.5,457.4 663.7,453.1 664.9,455.7 666.1,449.9 667.3,446.2 668.5,444.0 669.7,438.2 670.9,435.8 672.1,432.8 673.3,429.8 674.5,430.8 675.5,430.0 676.4,432.3 677.4,440.9 678.3,442.1 679.3,441.9 680.2,449.6 681.2,453.0 682.1,456.1 683.1,460.3 684.0,461.2 685.0,463.2 686.1,463.4 687.3,459.2 688.4,456.4 689.5,449.5 690.6,447.4 691.8,446.2 692.9,440.7 695.1,439.6 697.4,436.1 699.6,435.3 701.9,430.0 704.1,428.3 706.4,428.0 708.6,421.8 711.2,418.7 713.9,419.5 716.5,413.9 719.1,416.6 721.7,410.4 724.4,412.4 727.0,407.6 729.1,408.2 731.2,413.8 733.3,418.1 735.4,419.9 737.5,424.0 738.5,418.9 739.4,419.5 740.4,410.8 741.3,411.7 742.3,403.1 743.2,403.1 744.2,396.7 745.1,393.8 746.1,393.6 747.0,392.4 748.0,385.0 751.1,387.0 754.1,388.8 757.2,391.0 760.3,390.5 763.3,391.9 766.4,396.6 769.7,392.6 773.0,389.2 776.3,390.4 779.6,389.7 781.1,382.8 782.6,377.0 784.1,376.0 785.5,377.0 787.0,369.1 788.5,366.3 790.0,367.3 793.5,361.8 797.0,365.9 800.5,360.8 804.1,361.0 807.6,361.5 811.1,357.4 813.7,364.5 816.4,364.9 819.0,369.8 821.6,372.4 824.2,365.1 826.8,367.5 829.5,364.9 832.1,358.3 834.7,358.0 837.9,354.4 841.0,355.6 844.2,356.0 847.3,352.4 850.5,352.4 853.1,347.4 855.8,350.2 858.4,346.3 861.0,345.4 863.6,338.1 866.3,340.3 868.9,333.6 871.5,338.9 874.1,338.8 876.8,345.4 879.4,342.1 882.0,346.7 884.6,348.9 887.3,350.5 889.9,350.5 892.5,356.8 895.2,361.0 897.8,359.1 901.1,360.8 904.3,355.0 907.6,352.6 910.9,351.9 914.6,355.9 918.3,355.1 921.9,354.7 925.6,351.1 929.3,354.5 932.3,350.4 935.3,349.6 938.3,350.6 941.3,348.5 944.3,346.5 947.3,348.1 950.3,348.8 952.8,351.8 955.4,353.7 958.0,352.3 960.5,352.6 962.2,354.9 964.0,348.1 965.8,344.5 967.5,344.7 969.2,339.9 971.0,339.5 974.1,336.0 977.1,336.0 980.2,328.8 983.3,332.5 986.3,328.0 989.4,327.3 992.7,325.9 996.0,326.9 999.2,328.5 1002.5,329.0 1004.7,337.0 1006.9,333.9 1009.1,337.4 1011.3,342.6 1013.5,342.4 1015.7,345.1 1017.6,342.7 1019.4,339.9 1021.3,335.7 1023.2,338.1 1025.1,334.9 1026.9,329.9 1028.8,331.2 1032.8,328.3 1036.7,325.3 1040.6,329.8 1044.6,324.2 1047.7,329.1 1050.9,330.2 1054.0,325.7 1057.2,332.5 1060.3,330.7 1062.5,333.8 1064.7,339.5 1066.9,338.8 1069.1,340.0 1071.3,341.3 1073.5,349.6 1075.7,344.1 1077.9,343.2 1080.0,340.1 1082.2,339.7 1084.4,336.8 1086.6,334.2 1089.8,330.7 1092.9,332.9 1096.1,328.3 1099.2,326.5 1102.4,329.4 1106.1,325.8 1109.8,332.8 1113.4,328.9 1117.1,330.1 1120.8,329.8 1124.1,328.0 1127.3,327.5 1130.6,327.3 1133.9,320.0 1136.5,324.4 1139.1,325.9 1141.8,333.0 1144.4,331.6 1147.0,333.8 1149.6,339.4 1152.2,333.0 1154.9,330.4 1157.5,327.9 1160.1,324.1 1162.8,324.7 1165.4,319.3 1166.7,323.9 1168.0,327.5 1169.3,332.0 1170.6,334.9 1172.0,336.3 1173.3,342.7 1174.6,345.8 1175.9,348.9 1177.2,350.5 1178.5,351.9 1180.7,348.6 1182.9,349.4 1185.1,344.1 1187.3,343.4 1189.5,338.3 1191.7,335.5 1195.0,333.8 1198.2,339.3 1201.5,336.9 1204.8,339.0 1208.0,339.5 1211.1,339.2 1214.3,338.9 1217.4,336.0 1220.6,332.0 1222.8,339.3 1225.0,336.0 1227.2,341.1 1229.3,347.2 1231.5,349.3 1233.7,350.2 1235.7,355.4 1237.7,354.0 1239.6,356.3 1241.6,361.3 1243.5,368.3 1245.3,364.8 1247.2,369.4 1249.1,373.3 1251.0,373.8 1252.8,381.0 1254.7,378.4 1258.0,376.3 1261.3,380.5 1264.6,371.9 1267.9,371.3 1270.5,374.7 1273.1,380.0 1275.8,378.4 1278.4,382.1 1281.0,385.8 1283.5,387.0 1285.9,390.9 1288.4,387.8 1290.9,393.8 1293.3,392.7 1295.8,400.8 1298.4,397.4 1301.1,400.2 1303.7,404.7 1306.3,408.3 1308.9,406.4 1311.6,412.9 1314.2,411.5 1317.7,413.0 1321.2,411.1 1324.7,415.7 1328.2,416.5 1331.7,416.0 1335.2,413.0 1337.0,415.5 1338.7,423.4 1340.5,425.5 1342.2,429.6 1344.0,428.9 1345.7,435.1 1349.4,434.8 1353.1,436.6 1356.7,435.8 1360.4,438.7 1364.1,437.8 1365.3,439.5 1366.4,444.1 1367.6,444.3 1368.8,451.8 1369.9,452.7 1371.1,454.9 1372.3,462.3 1373.4,463.7 1374.6,465.5 1378.3,470.6 1382.0,471.8 1385.6,469.4 1389.3,471.3 1393.0,468.6 1395.6,473.1 1398.2,479.5 1400.9,478.4 1403.5,483.8 1406.1,479.3 1407.2,482.2 1408.4,485.5 1409.5,488.6 1410.6,496.2 1411.7,500.8 1412.9,502.3 1414.0,504.2 1417.3,502.0 1420.5,501.3 1423.8,499.0 1427.1,500.1 1429.7,500.9 1432.4,508.2 1435.0,509.0 1437.6,510.5 1440.3,516.4 1442.9,515.2 1446.6,519.7 1450.3,519.1 1453.9,519.0 1457.6,519.3 1461.3,520.1 1462.9,525.1 1464.4,528.9 1466.0,529.1 1467.5,535.0 1469.1,533.3 1472.3,538.9 1475.4,539.7 1478.6,539.0 1481.7,536.5 1484.9,542.8 1488.9,539.4 1492.8,539.1 1496.8,543.3 1500.7,537.4 1504.6,541.9 1508.6,539.7 1512.5,544.7 1516.4,541.0 1517.9,543.4 1519.3,549.2 1520.8,552.2 1522.3,557.5 1523.7,557.5 1525.2,560.8 1526.7,564.0 1528.1,568.9 1529.6,569.3 1530.9,569.3 1532.2,568.1 1533.5,564.2 1534.8,558.3 1536.1,556.9 1537.4,551.3 1538.7,550.9 1540.0,549.9 1541.5,547.7 1543.0,555.1 1544.5,560.0 1546.1,558.6 1547.6,561.9 1549.1,567.3 1550.6,566.8 1553.7,569.3 1556.7,573.4 1559.8,574.5 1562.9,573.9 1565.9,575.9 1569.0,579.6 1572.1,583.5 1575.1,580.3 1578.2,584.9 1581.3,585.1 1584.3,584.7 1587.4,586.9 1590.4,590.8 1593.4,587.1 1596.4,591.2 1599.4,591.9 1602.4,590.5 1605.4,593.7 1608.4,593.2 1612.1,595.8 1615.8,594.3 1619.4,599.0 1623.1,601.7 1626.8,603.2 1629.9,604.7 1633.1,601.1 1636.2,605.9 1639.4,603.9 1642.5,607.4 1645.6,607.5 1648.6,611.1 1651.7,610.5 1654.8,616.0 1657.8,614.4 1660.9,618.4 1664.2,612.2 1667.5,614.0 1670.7,608.5 1674.0,607.9 1675.1,610.7 1676.3,615.7 1677.4,618.1 1678.5,619.0 1679.6,626.5 1680.8,623.5 1681.9,629.4 1685.1,625.5 1688.2,623.8 1691.4,622.9 1694.5,626.3 1697.7,618.4 1699.8,620.0 1701.9,615.9 1704.0,614.5 1706.1,611.4 1708.2,603.3 1710.8,611.4 1713.5,608.7 1716.1,611.2 1718.7,616.4" fill="none" stroke="#ffc402" stroke-width="8" stroke-linejoin="round" stroke-linecap="butt"/>
<rect x="136" y="32" width="1585" height="3" fill="#cfcfcf"/>
<rect x="133" y="29" width="1591" height="3" fill="#333"/>
<rect x="133" y="29" width="6" height="902" fill="#7b7b7b"/>
<rect x="1718" y="29" width="3" height="902" fill="#555"/>
<rect x="1721" y="29" width="3" height="902" fill="#ababab"/>
<rect x="133" y="927.5" width="1588" height="3.2" fill="#282828"/>
<rect x="451.2" y="909" width="3" height="20" fill="#333"/>
<rect x="767.9" y="909" width="3" height="20" fill="#333"/>
<rect x="1084.6" y="909" width="3" height="20" fill="#333"/>
<rect x="1401.3" y="909" width="3" height="20" fill="#333"/>
<text x="137.7" y="1022.5" font-size="57" text-anchor="middle" textLength="88.3" lengthAdjust="spacingAndGlyphs" >100</text>
<text x="452.3" y="1022.5" font-size="57" text-anchor="middle" textLength="90" lengthAdjust="spacingAndGlyphs" >200</text>
<text x="769" y="1022.5" font-size="57" text-anchor="middle" textLength="90.3" lengthAdjust="spacingAndGlyphs" >300</text>
<text x="1083.5" y="1022.5" font-size="57" text-anchor="middle" textLength="90" lengthAdjust="spacingAndGlyphs" >400</text>
<text x="1402.4" y="1022.5" font-size="57" text-anchor="middle" textLength="90" lengthAdjust="spacingAndGlyphs" >500</text>
<text x="1719.4" y="1022.5" font-size="57" text-anchor="middle" textLength="88.8" lengthAdjust="spacingAndGlyphs" >600</text>
<text x="926.9" y="1117" font-size="46" text-anchor="middle" textLength="354.4" lengthAdjust="spacingAndGlyphs" >Temperature (°C)</text>
<text transform="translate(54,615.8) rotate(-90)" font-size="44" textLength="359.8" lengthAdjust="spacingAndGlyphs">NH<tspan font-size="31" dy="4">3</tspan><tspan dy="-4"> uptake (a.u.)</tspan></text>
<rect x="146" y="73.5" width="49" height="9" fill="#2e6bb6"/>
<text x="239" y="102" font-size="46.5" textLength="367" lengthAdjust="spacingAndGlyphs">20% Cu-Al<tspan font-size="33" dy="4">2</tspan><tspan dy="-4">O</tspan><tspan font-size="33" dy="4">3</tspan><tspan dy="-4"> (8h)</tspan></text>
<rect x="146" y="166.0" width="40" height="9" fill="#f97e2c"/>
<text x="242.6" y="183" font-size="46.5" textLength="363.4" lengthAdjust="spacingAndGlyphs">20% Cu-Al<tspan font-size="33" dy="4">2</tspan><tspan dy="-4">O</tspan><tspan font-size="33" dy="4">3</tspan><tspan dy="-4">(4h)</tspan></text>
<rect x="146" y="258.1" width="42" height="9" fill="#a3a3a3"/>
<text x="232.2" y="271" font-size="46.5" textLength="343" lengthAdjust="spacingAndGlyphs">1% Cu-Al<tspan font-size="33" dy="4">2</tspan><tspan dy="-4">O</tspan><tspan font-size="33" dy="4">3</tspan><tspan dy="-4"> (4h)</tspan></text>
<rect x="146" y="350.5" width="42" height="9" fill="#ffc402"/>
<text x="231.2" y="362.6" font-size="46.5" textLength="334" lengthAdjust="spacingAndGlyphs">1% Pt-Al<tspan font-size="33" dy="4">2</tspan><tspan dy="-4">O</tspan><tspan font-size="33" dy="4">3</tspan><tspan dy="-4">(4h)</tspan></text>
<rect x="1621" y="35.5" width="90" height="98.5" fill="#fff"/>
<rect x="1621" y="35.5" width="90" height="4" fill="#333"/>
<rect x="1621" y="130.5" width="90" height="3.5" fill="#222"/>
<rect x="1621" y="35.5" width="5.5" height="98.5" fill="#7b7b7b"/>
<rect x="1705.5" y="35.5" width="5.5" height="98.5" fill="#7b7b7b"/>
<text x="1666" y="102.5" font-size="45" text-anchor="middle" font-weight="bold">a</text>
<polyline points="263.5,1992.0 264.8,1984.7 266.0,1987.7 267.2,1983.8 268.5,1978.7 269.8,1972.3 271.0,1975.9 273.6,1974.2 276.2,1968.8 278.9,1966.9 281.5,1961.8 284.6,1957.7 287.8,1960.9 291.0,1962.1 294.1,1954.6 298.0,1961.6 301.8,1954.4 305.7,1952.7 309.5,1951.0 313.4,1957.2 317.2,1955.0 320.1,1957.8 323.0,1957.9 325.9,1955.8 328.8,1959.6 331.4,1958.7 334.1,1954.0 336.7,1957.6 339.3,1951.5 340.9,1947.3 342.5,1949.0 344.1,1941.4 345.6,1944.1 347.2,1938.1 348.8,1936.0 350.9,1931.0 353.0,1928.4 355.1,1922.9 356.6,1918.9 358.1,1921.5 359.6,1914.2 361.1,1914.9 362.6,1908.0 364.1,1910.2 365.6,1906.7 366.5,1902.3 367.4,1898.9 368.3,1894.2 369.2,1891.8 370.1,1884.2 371.0,1883.2 371.9,1882.1 373.1,1874.9 374.3,1876.8 375.5,1873.6 376.8,1867.4 378.0,1864.1 379.2,1861.7 381.1,1858.6 382.9,1860.1 384.8,1853.3 385.8,1847.8 386.8,1845.2 387.8,1846.4 388.8,1845.2 389.8,1838.8 390.8,1835.7 391.8,1833.0 392.8,1831.3 393.8,1824.6 394.8,1824.2 395.8,1820.8 396.8,1818.2 397.8,1812.1 398.8,1809.0 399.6,1807.1 400.4,1807.9 401.1,1800.8 401.9,1799.4 402.7,1794.3 403.5,1789.8 404.3,1786.4 405.1,1788.4 405.8,1785.1 406.6,1779.2 407.4,1778.2 408.2,1775.0 409.0,1773.4 409.7,1770.7 410.5,1763.8 411.3,1764.7 412.1,1761.4 412.9,1755.7 413.6,1754.6 414.4,1748.8 415.2,1744.9 416.0,1741.0 416.8,1742.1 417.6,1734.1 418.3,1730.4 419.1,1732.3 419.9,1729.0 421.3,1723.7 422.7,1722.9 424.1,1714.3 425.5,1712.4 426.9,1709.3 428.3,1707.0 429.7,1702.0 431.1,1698.0 432.5,1696.6 433.4,1697.3 434.3,1694.7 435.2,1689.9 436.1,1685.0 437.0,1680.3 437.9,1681.9 438.8,1675.8 439.7,1674.1 440.6,1666.1 441.5,1664.2 442.4,1665.4 443.3,1661.9 444.2,1659.3 445.1,1654.3 446.9,1655.7 448.8,1659.4 450.6,1663.9 452.5,1662.8 454.3,1667.0 456.1,1667.8 458.0,1673.8 459.8,1671.3 460.6,1672.7 461.4,1671.4 462.2,1661.9 463.1,1662.6 463.9,1659.8 464.7,1658.1 465.5,1653.1 466.3,1647.7 467.1,1645.6 468.0,1646.2 468.8,1642.6 469.6,1634.2 470.4,1630.8 471.2,1627.7 472.1,1624.0 472.9,1623.7 473.7,1618.5 474.5,1620.3 475.6,1622.0 476.6,1621.6 477.6,1627.5 478.7,1629.2 479.8,1633.5 480.8,1634.8 481.8,1637.6 482.9,1640.9 485.7,1643.9 488.5,1648.0 491.3,1648.6 494.1,1647.0 496.9,1653.3 499.7,1656.1 501.4,1652.3 503.2,1649.2 504.9,1640.8 506.7,1640.7 508.4,1634.8 510.2,1636.4 511.8,1635.6 513.4,1642.4 514.9,1642.4 516.5,1648.6 518.1,1649.1 519.6,1650.5 521.2,1656.0 522.8,1658.6 524.9,1665.6 527.0,1664.4 529.2,1668.7 531.3,1672.0 533.4,1677.6 536.1,1674.0 538.8,1679.5 541.5,1681.0 544.2,1684.6 546.9,1688.3 549.6,1685.9 552.3,1690.7 553.1,1692.9 553.9,1696.5 554.7,1696.6 555.5,1705.1 556.2,1709.6 557.0,1708.8 557.8,1712.0 558.6,1720.0 560.7,1716.4 562.8,1718.6 564.9,1721.0 567.0,1728.5 569.1,1730.6 571.2,1730.9 573.0,1735.1 574.8,1734.0 576.6,1741.3 578.4,1742.9 580.2,1746.4 582.0,1748.5 583.8,1751.6 585.9,1753.2 588.0,1754.9 590.1,1760.3 592.2,1761.8 594.3,1767.8 596.4,1771.4 598.0,1773.9 599.5,1775.2 601.1,1776.9 602.7,1781.0 604.3,1784.9 605.9,1789.0 607.4,1794.4 609.0,1791.6 610.6,1797.1 612.1,1800.1 613.7,1804.5 615.3,1808.6 616.9,1810.7 618.5,1812.6 620.0,1816.4 621.6,1818.6 622.8,1823.2 624.0,1825.5 625.2,1828.6 626.4,1829.0 627.6,1836.8 628.8,1836.5 630.0,1841.4 632.1,1845.3 634.2,1848.7 636.3,1851.3 638.4,1847.0 640.5,1851.6 642.6,1854.0 644.2,1857.4 645.8,1858.7 647.4,1864.3 649.0,1864.0 650.5,1868.4 652.1,1875.6 653.7,1877.2 655.3,1878.1 657.0,1879.1 658.7,1888.3 660.3,1889.9 662.0,1889.9 663.7,1894.2 665.6,1899.4 667.5,1902.8 669.5,1903.0 671.4,1910.9 672.4,1910.0 673.5,1912.9 674.5,1920.3 675.5,1919.0 676.6,1925.9 677.6,1926.0 678.6,1932.1 679.7,1933.3 680.7,1937.4 682.6,1937.9 684.4,1931.4 686.3,1927.9 688.1,1925.9 690.0,1920.3 691.9,1922.4 693.8,1926.6 695.6,1928.7 697.5,1930.9 699.4,1938.9 701.7,1930.3 704.1,1933.2 706.4,1931.8 708.7,1927.9 711.1,1920.9 713.4,1921.8 714.2,1915.6 715.0,1916.3 715.7,1913.8 716.5,1907.6 717.3,1902.9 718.1,1903.4 718.8,1897.3 719.6,1895.6 720.4,1893.5 723.3,1898.8 726.2,1897.6 729.1,1898.4 732.0,1905.2 732.3,1902.2 732.6,1897.0 732.9,1890.5 733.2,1888.2 733.5,1886.5 733.8,1884.3 734.1,1878.8 734.4,1879.6 734.7,1876.6 735.0,1874.0 735.3,1870.5 735.6,1861.4 735.9,1862.0 736.2,1855.4 736.5,1857.7 736.8,1853.5 737.6,1850.1 738.3,1842.7 739.1,1838.3 739.9,1839.9 740.6,1835.0 741.4,1831.6 743.1,1834.1 744.9,1839.8 746.6,1840.2 748.4,1843.2 748.8,1840.5 749.2,1836.8 749.6,1835.7 750.0,1834.2 750.4,1825.3 750.8,1822.0 751.1,1821.7 751.5,1819.5 751.9,1812.9 752.3,1810.2 752.7,1805.4 753.1,1802.0 754.1,1801.7 755.1,1799.6 756.1,1796.1 757.1,1789.4 758.1,1785.7 759.1,1788.0 760.1,1782.0 762.4,1778.2 764.8,1777.1 767.1,1774.5 769.4,1770.2 770.1,1763.8 770.7,1765.6 771.4,1758.1 772.1,1753.6 772.8,1752.4 773.4,1750.2 774.1,1747.6 775.4,1741.2 776.8,1741.5 778.1,1736.7 779.5,1731.1 780.8,1732.4 782.2,1728.8 783.5,1726.2 784.6,1721.6 785.7,1715.5 786.8,1716.3 787.9,1714.1 789.0,1708.6 790.1,1708.1 791.2,1705.5 792.3,1698.6 793.4,1699.3 794.7,1695.9 796.1,1691.6 797.4,1682.9 798.7,1681.9 800.0,1680.4 801.4,1677.0 802.7,1674.6 803.4,1670.7 804.0,1664.3 804.7,1666.3 805.4,1660.5 806.1,1659.6 806.7,1651.9 807.4,1654.1 808.1,1647.9 808.7,1646.2 809.4,1642.8 810.1,1640.6 810.8,1633.9 811.4,1628.8 812.1,1627.9 815.0,1624.6 818.0,1625.3 820.9,1625.4 823.8,1620.6 824.9,1615.8 825.9,1611.9 827.0,1611.4 828.0,1609.3 829.1,1602.4 830.1,1603.5 831.2,1597.3 832.2,1593.4 833.3,1595.8 834.3,1589.8 835.4,1589.2 837.5,1584.0 839.6,1578.8 841.6,1577.0 843.7,1575.6 845.8,1574.5 847.9,1572.8 849.9,1570.1 852.0,1566.8 854.1,1561.5 855.3,1559.7 856.6,1556.3 857.8,1554.1 859.0,1549.5 860.3,1548.3 861.5,1544.8 862.7,1538.9 864.0,1541.2 865.2,1536.6 866.5,1535.0 867.7,1531.5 868.9,1528.5 870.2,1527.2 871.4,1520.0 872.6,1517.1 873.9,1511.4 875.1,1512.9 877.4,1509.7 879.8,1507.1 882.1,1507.3 884.5,1499.2 886.8,1496.8 889.1,1497.6 891.5,1495.5 893.8,1490.7 895.3,1484.8 896.8,1484.0 898.3,1484.1 899.8,1478.9 901.3,1475.7 902.7,1472.2 904.2,1470.9 905.7,1467.7 907.2,1465.4 908.7,1463.6 910.2,1459.8 912.1,1460.0 913.9,1462.0 915.8,1468.4 917.6,1471.3 919.5,1475.0 921.8,1467.7 924.2,1469.8 926.5,1467.8 928.8,1459.9 931.2,1459.1 933.5,1459.0 936.6,1456.5 939.7,1461.9 942.9,1458.8 946.0,1462.4 949.1,1460.5 952.2,1460.8 953.4,1457.5 954.5,1456.3 955.7,1454.5 956.9,1448.0 958.0,1448.0 959.2,1442.4 960.3,1441.3 961.5,1436.2 963.5,1438.0 965.5,1440.7 967.5,1443.1 969.5,1450.4 971.5,1451.5 973.5,1452.5 975.5,1460.7 976.5,1456.0 977.5,1448.6 978.4,1450.3 979.4,1446.3 980.4,1442.1 981.4,1439.4 982.3,1439.4 983.3,1432.3 984.3,1431.0 985.2,1427.9 986.2,1422.9 987.2,1419.7 989.2,1425.6 991.1,1427.9 993.0,1429.8 995.0,1433.3 997.0,1434.4 998.9,1441.4 1001.5,1433.9 1004.0,1435.9 1006.6,1432.3 1009.1,1428.5 1011.7,1428.7 1013.2,1425.8 1014.6,1419.5 1016.1,1419.3 1017.5,1414.2 1019.0,1415.6 1020.5,1409.4 1021.9,1406.5 1023.4,1402.9 1025.4,1404.4 1027.4,1408.0 1029.4,1410.4 1031.4,1416.3 1033.4,1420.5 1035.4,1418.9 1037.4,1420.9 1038.2,1420.6 1039.0,1414.6 1039.7,1413.5 1040.5,1412.8 1041.3,1405.9 1042.1,1406.1 1042.8,1401.9 1043.6,1395.7 1044.4,1393.6 1045.7,1399.2 1047.0,1398.9 1048.3,1402.8 1049.6,1408.4 1050.8,1413.2 1052.1,1414.3 1053.4,1418.4 1054.7,1417.0 1056.0,1422.2 1056.8,1419.1 1057.7,1420.0 1058.5,1413.0 1059.3,1412.8 1060.2,1404.5 1061.0,1404.5 1061.8,1404.0 1062.7,1400.0 1063.5,1395.5 1064.4,1389.6 1065.2,1391.5 1066.0,1382.6 1066.9,1385.4 1067.7,1381.0 1070.0,1382.9 1072.4,1384.0 1074.8,1383.8 1077.1,1387.3 1081.0,1390.3 1084.8,1391.1 1088.7,1390.0 1091.4,1390.5 1094.2,1383.1 1096.9,1382.4 1099.6,1378.7 1102.4,1377.9 1105.1,1378.8 1107.4,1381.3 1109.8,1380.0 1112.1,1383.9 1114.5,1385.4 1116.8,1391.9 1117.6,1387.1 1118.3,1382.3 1119.1,1380.0 1119.9,1380.0 1120.7,1373.7 1121.4,1372.2 1122.2,1368.5 1123.0,1364.1 1123.8,1361.3 1124.5,1356.7 1125.3,1352.3 1126.1,1351.0 1128.1,1352.7 1130.1,1355.9 1132.1,1357.9 1134.1,1365.9 1136.1,1365.6 1138.1,1367.0 1140.1,1368.9 1143.6,1371.9 1147.1,1378.1 1150.6,1376.2 1154.1,1380.2 1155.5,1374.2 1156.9,1374.0 1158.3,1369.6 1159.7,1368.5 1161.1,1364.1 1162.5,1360.0 1163.9,1356.3 1165.3,1355.4 1166.7,1354.0 1168.1,1350.0 1169.7,1351.7 1171.2,1353.8 1172.8,1360.7 1174.4,1363.5 1175.9,1361.9 1177.5,1368.6 1180.8,1367.9 1184.0,1365.8 1187.3,1366.4 1190.5,1364.4 1193.8,1358.7 1195.7,1366.6 1197.6,1364.8 1199.4,1368.0 1201.3,1374.8 1203.2,1372.1 1205.5,1371.0 1207.9,1369.8 1210.2,1364.7 1212.5,1361.9 1214.9,1362.7 1217.2,1358.8 1218.1,1362.9 1219.0,1366.4 1219.8,1370.2 1220.7,1373.6 1221.6,1376.3 1222.5,1380.6 1223.3,1380.6 1224.2,1385.2 1225.4,1380.6 1226.5,1380.4 1227.7,1375.0 1228.8,1370.2 1230.0,1368.5 1231.2,1362.7 1232.3,1358.3 1233.5,1356.8 1234.6,1351.8 1235.8,1347.6 1237.1,1351.2 1238.5,1356.7 1239.8,1361.8 1241.2,1360.0 1242.5,1367.0 1243.9,1366.4 1245.2,1372.2 1248.0,1372.6 1250.8,1375.5 1253.6,1379.1 1256.4,1379.0 1259.2,1380.7 1260.0,1386.1 1260.8,1385.0 1261.5,1389.7 1262.3,1395.2 1263.1,1399.3 1263.8,1403.4 1264.6,1401.6 1265.4,1407.2 1266.2,1408.2 1267.0,1413.9 1267.7,1418.0 1268.5,1416.3 1269.8,1414.6 1271.1,1415.5 1272.4,1408.5 1273.7,1407.3 1275.0,1405.4 1276.3,1398.6 1277.6,1398.9 1278.9,1390.5 1280.2,1389.7 1284.1,1389.3 1288.0,1391.3 1291.9,1391.1 1294.2,1392.5 1296.6,1400.4 1298.9,1398.8 1301.2,1404.1 1303.6,1406.6 1305.9,1411.2 1308.3,1413.8 1310.6,1414.9 1313.9,1412.8 1317.1,1417.8 1320.4,1414.2 1323.6,1420.8 1326.9,1417.5 1329.0,1419.7 1331.0,1422.1 1333.0,1426.0 1335.1,1431.3 1337.2,1434.3 1339.2,1436.2 1341.2,1438.7 1343.3,1438.1 1346.6,1437.2 1349.8,1435.7 1353.1,1435.1 1356.3,1436.7 1359.6,1436.2 1362.4,1432.3 1365.2,1440.6 1368.0,1442.7 1370.8,1441.9 1373.6,1445.8 1376.4,1448.8 1379.2,1447.0 1382.0,1452.2 1384.8,1457.1 1387.6,1458.7 1390.8,1456.2 1394.1,1447.9 1397.3,1449.6 1399.1,1451.1 1401.0,1457.1 1402.8,1455.1 1404.7,1460.8 1406.5,1460.9 1408.4,1468.7 1410.2,1471.2 1413.5,1467.6 1416.7,1470.6 1420.0,1470.5 1423.2,1474.9 1424.6,1478.0 1426.1,1477.3 1427.5,1486.4 1429.0,1489.7 1430.4,1489.2 1431.9,1493.2 1433.3,1494.9 1434.8,1499.7 1436.2,1501.4 1438.6,1504.1 1441.0,1508.6 1443.5,1507.2 1445.9,1510.4 1448.3,1516.0 1450.8,1514.8 1453.2,1516.1 1455.6,1524.3 1458.6,1517.0 1461.6,1516.6 1464.7,1513.8 1467.7,1511.2 1470.7,1509.7 1474.5,1511.0 1478.2,1508.1 1482.0,1510.9 1485.8,1507.6 1486.5,1511.0 1487.1,1515.0 1487.8,1518.4 1488.5,1522.3 1489.1,1525.1 1489.8,1532.0 1490.5,1533.9 1491.2,1535.8 1491.8,1541.0 1492.5,1543.6 1493.2,1544.2 1493.8,1549.4 1494.5,1553.5 1498.3,1550.9 1502.0,1551.3 1505.8,1549.4 1509.6,1550.3 1512.8,1545.3 1516.1,1547.5 1519.3,1549.1 1522.6,1545.5 1523.8,1551.1 1525.1,1548.7 1526.3,1556.1 1527.5,1556.0 1528.7,1562.4 1530.0,1563.3 1531.2,1567.1 1533.8,1567.8 1536.4,1570.4 1539.0,1577.1 1541.6,1578.2 1544.2,1580.7 1547.2,1575.5 1550.2,1575.0 1553.3,1577.8 1556.3,1570.9 1559.3,1571.5 1560.2,1575.9 1561.2,1578.1 1562.1,1581.8 1563.0,1588.0 1563.9,1590.1 1564.9,1589.8 1565.8,1594.5 1568.4,1591.9 1571.0,1591.0 1573.5,1588.4 1576.1,1583.0 1578.7,1583.3 1581.3,1583.7 1583.9,1583.0 1586.5,1587.1 1589.1,1589.8 1591.7,1590.7 1595.5,1593.4 1599.2,1595.0 1603.0,1594.1 1606.8,1591.5 1609.8,1594.8 1612.8,1594.0 1615.9,1596.4 1618.9,1600.2 1621.9,1596.3 1625.7,1599.4 1629.5,1600.6 1633.2,1601.4 1637.0,1603.1 1638.1,1603.8 1639.2,1611.3 1640.2,1616.4 1641.3,1614.7 1642.4,1617.6 1643.5,1621.9 1646.1,1627.6 1648.7,1626.3 1651.3,1632.6 1653.9,1631.2 1656.5,1636.6 1659.1,1634.9 1661.7,1632.0 1664.2,1625.4 1666.8,1628.7 1669.4,1625.4 1671.6,1625.4 1673.7,1630.5 1675.9,1631.3 1678.1,1630.9 1680.2,1635.0 1682.4,1640.4 1685.0,1635.4 1687.6,1629.9 1690.2,1628.1 1692.8,1625.7 1695.4,1625.8 1696.1,1629.5 1696.7,1631.5 1697.4,1634.5 1698.0,1641.6 1698.7,1640.7 1699.4,1646.3 1700.0,1646.5 1700.7,1651.9 1701.4,1652.9 1702.0,1655.8 1702.7,1660.6 1703.3,1662.5 1704.0,1667.6 1704.9,1666.4 1705.9,1662.6 1706.8,1661.2 1707.7,1655.9 1708.6,1650.1 1709.6,1651.4 1710.5,1646.1 1711.4,1645.4 1712.4,1643.9 1713.3,1637.7 1714.2,1632.8 1715.1,1630.4 1716.1,1628.3 1717.0,1624.0 1718.3,1625.5 1719.7,1630.5 1721.0,1635.2 1722.4,1639.2 1723.8,1641.9 1725.1,1645.7 1726.5,1648.1 1727.8,1648.4 1730.0,1647.4 1732.1,1640.8 1734.3,1643.2 1736.4,1640.0 1738.6,1634.4 1738.9,1639.0 1739.1,1640.9 1739.4,1647.7 1739.7,1648.5 1739.9,1654.1 1740.2,1658.3 1740.4,1660.6 1740.7,1661.9" fill="none" stroke="#2e6bb6" stroke-width="8" stroke-linejoin="round" stroke-linecap="butt"/>
<polyline points="263.5,2024.0 263.5,2034.5 263.5,2006.7 263.5,2000.0 263.5,2026.0 263.5,1998.3 263.5,1993.1 263.5,2005.8 263.5,1993.4 263.5,2006.4 263.5,1983.5 263.5,2002.0 263.5,1979.6 263.5,1984.8 263.5,1991.5 263.5,1980.8 263.5,1984.7 263.8,1981.5 264.1,1965.0 264.4,1993.2 264.8,1987.7 265.1,1982.6 265.4,1982.2 265.7,2005.2 266.0,2000.5 269.2,2010.3 272.3,2004.6 275.5,2009.3 278.7,1996.7 281.8,1999.8 285.0,1996.4 288.8,1986.3 292.5,2007.7 296.2,1988.9 300.0,2003.4 303.3,2008.1 306.7,1998.5 310.0,1982.8 313.3,2002.8 316.7,1997.5 320.0,1982.6 322.9,1976.8 325.7,1989.5 328.6,1972.8 331.4,1997.9 334.3,1983.6 337.1,1982.2 340.0,1977.3 342.0,1981.8 344.0,1986.5 346.0,1969.7 348.0,1967.1 350.0,1965.6 352.0,1960.6 353.0,1959.6 354.1,1956.2 355.1,1952.5 356.2,1951.1 357.2,1947.0 358.3,1941.0 359.3,1944.2 361.4,1936.3 363.5,1933.3 365.6,1929.6 367.3,1929.7 369.1,1926.4 370.8,1919.9 371.9,1916.0 372.9,1910.7 374.0,1913.0 375.0,1904.9 376.1,1904.3 377.2,1899.5 378.2,1895.8 379.2,1892.5 380.3,1887.9 381.3,1883.4 382.4,1883.2 383.2,1881.9 384.1,1877.7 384.9,1871.5 385.8,1871.7 386.6,1864.2 387.4,1863.5 388.3,1863.2 389.1,1860.7 390.0,1854.4 390.8,1853.9 391.9,1848.2 392.9,1845.1 393.9,1842.2 395.0,1841.7 396.1,1836.8 397.1,1831.7 398.1,1830.1 399.2,1826.3 400.7,1821.3 402.2,1821.3 403.6,1818.5 405.1,1814.1 406.6,1813.4 408.1,1804.1 408.7,1804.0 409.4,1801.5 410.0,1796.1 410.6,1791.6 411.2,1791.7 411.9,1786.6 412.5,1782.0 413.1,1777.1 413.7,1780.0 414.4,1772.4 415.0,1767.4 415.7,1764.9 416.4,1762.1 417.1,1763.1 417.8,1755.3 418.5,1752.8 419.2,1748.5 419.9,1747.9 420.9,1743.0 422.0,1740.7 423.0,1740.2 424.1,1738.4 425.1,1734.6 426.2,1726.1 427.2,1725.2 428.3,1725.3 429.3,1716.6 430.4,1714.6 431.4,1713.4 432.5,1709.5 433.5,1708.9 434.6,1705.5 435.6,1700.6 436.7,1696.0 437.8,1692.7 438.8,1689.8 439.8,1685.3 440.9,1686.2 441.9,1679.6 443.0,1681.4 444.1,1676.6 445.1,1669.5 446.1,1669.3 447.2,1666.9 448.2,1659.9 449.3,1659.8 449.7,1653.3 450.1,1654.9 450.5,1646.3 450.9,1647.2 451.3,1646.2 451.7,1641.9 452.1,1634.3 452.5,1632.9 452.9,1626.9 453.3,1624.8 453.7,1625.0 454.1,1621.3 454.5,1612.4 455.2,1618.3 455.8,1623.5 456.5,1623.7 457.1,1631.4 457.8,1635.4 458.5,1636.5 459.1,1638.6 459.8,1645.4 463.5,1643.6 467.1,1642.0 470.8,1643.1 474.5,1642.9 478.0,1649.6 481.5,1649.5 485.0,1652.8 487.5,1651.6 490.0,1650.5 492.6,1643.1 495.1,1642.5 497.6,1643.5 498.8,1645.8 499.9,1646.3 501.1,1651.2 502.3,1651.1 503.4,1653.9 504.6,1656.1 505.8,1661.4 506.9,1663.5 508.1,1668.4 511.6,1673.6 515.1,1670.1 518.6,1675.0 520.5,1680.0 522.3,1681.0 524.1,1683.4 526.0,1688.0 527.9,1685.8 529.7,1695.0 531.5,1696.1 533.4,1699.8 535.3,1702.9 537.2,1700.9 539.1,1703.6 541.0,1707.3 542.8,1712.4 544.7,1718.3 546.6,1721.1 548.5,1720.6 550.4,1725.0 552.3,1728.7 554.4,1729.1 556.5,1736.6 558.6,1739.6 560.7,1741.2 562.2,1745.4 563.7,1747.7 565.2,1749.7 566.7,1750.5 568.2,1753.2 569.7,1755.9 571.2,1757.7 573.0,1766.8 574.7,1765.7 576.5,1767.0 578.2,1772.1 580.0,1773.8 581.7,1779.3 583.5,1781.4 585.2,1783.1 587.0,1787.9 588.7,1790.3 590.5,1792.7 592.2,1798.6 594.3,1797.6 596.4,1801.7 598.5,1806.4 600.6,1809.4 602.7,1807.9 604.8,1808.1 606.3,1817.3 607.8,1817.3 609.3,1818.3 610.8,1820.7 612.3,1824.4 613.8,1827.9 615.3,1829.7 617.0,1832.3 618.8,1841.9 620.5,1843.8 622.3,1842.2 624.0,1847.8 625.8,1853.1 627.9,1853.6 630.0,1853.1 632.1,1857.4 634.2,1860.2 636.3,1866.3 638.2,1867.2 640.2,1869.4 642.1,1873.7 644.1,1872.8 646.0,1880.3 648.0,1884.2 649.5,1880.3 650.9,1875.3 652.4,1871.9 653.9,1867.1 655.3,1864.7 656.8,1862.3 658.2,1861.4 659.7,1860.7 663.2,1857.5 666.7,1859.8 670.2,1861.4 673.7,1862.0 674.3,1854.5 674.9,1857.3 675.5,1851.8 676.0,1846.5 676.6,1842.8 677.2,1842.5 677.8,1840.9 678.4,1833.5 679.0,1830.6 679.5,1828.4 680.1,1822.5 680.7,1820.8 683.0,1821.9 685.4,1817.1 687.7,1816.6 690.0,1810.5 690.4,1811.4 690.9,1807.7 691.3,1800.7 691.7,1799.6 692.1,1797.4 692.6,1793.5 693.0,1790.5 693.4,1784.9 693.8,1783.8 694.3,1779.3 694.7,1779.1 697.6,1774.5 700.5,1776.8 703.5,1772.3 706.4,1768.1 707.3,1766.2 708.2,1761.0 709.2,1761.8 710.1,1753.9 711.0,1754.4 711.6,1749.1 712.2,1749.1 712.8,1741.4 713.4,1741.9 713.9,1738.8 714.5,1732.3 715.1,1728.3 715.7,1726.7 716.3,1725.3 718.2,1725.5 720.1,1726.6 721.9,1732.3 723.8,1737.6 725.7,1736.0 726.1,1738.1 726.5,1732.0 727.0,1726.4 727.4,1722.8 727.8,1721.5 728.2,1719.0 728.7,1713.8 729.1,1710.0 729.5,1709.6 729.9,1704.8 730.4,1702.9 730.8,1699.7 731.2,1698.2 731.6,1694.2 732.0,1688.7 732.5,1685.1 732.9,1686.6 733.3,1677.9 733.7,1675.2 734.2,1671.6 734.6,1673.6 735.0,1668.5 738.5,1671.7 742.0,1670.3 745.5,1668.9 749.0,1670.1 749.4,1668.9 749.8,1662.3 750.2,1662.9 750.6,1657.0 750.9,1651.3 751.3,1650.1 751.7,1648.3 752.1,1642.2 752.5,1644.2 752.9,1641.1 753.3,1635.0 753.7,1634.4 754.1,1629.7 754.4,1625.4 754.8,1619.6 755.2,1621.8 755.6,1618.3 756.0,1611.9 759.1,1609.9 762.3,1606.2 765.4,1608.3 766.3,1613.1 767.1,1613.2 768.0,1615.7 768.9,1621.1 769.8,1625.6 770.6,1624.5 771.5,1628.5 772.4,1634.2 772.7,1626.7 773.1,1628.7 773.4,1621.9 773.7,1622.1 774.1,1616.2 774.4,1610.9 774.7,1606.6 775.1,1603.9 775.4,1601.6 775.7,1601.6 776.1,1598.5 776.4,1594.1 776.7,1588.6 777.1,1587.6 777.4,1584.8 777.7,1579.0 778.1,1573.7 778.4,1573.0 778.7,1568.0 779.1,1564.4 779.4,1562.5 782.9,1560.3 786.4,1565.9 789.9,1561.7 793.4,1565.9 794.0,1561.6 794.7,1553.5 795.3,1556.3 795.9,1552.5 796.6,1547.4 797.2,1546.7 797.9,1540.7 798.5,1534.4 799.1,1532.1 799.8,1530.0 800.4,1530.5 801.3,1533.6 802.1,1531.9 803.0,1536.7 803.9,1538.3 804.8,1542.3 805.6,1546.4 806.5,1550.0 807.4,1551.4 808.1,1551.7 808.7,1545.7 809.4,1546.9 810.1,1541.0 810.8,1537.5 811.4,1536.6 812.1,1530.5 812.8,1526.8 813.4,1522.7 814.1,1520.7 814.8,1517.1 815.5,1517.3 816.1,1511.6 816.8,1510.8 819.1,1510.2 821.4,1511.2 823.8,1515.1 826.1,1518.0 828.4,1523.9 828.8,1515.7 829.3,1512.4 829.7,1508.6 830.1,1505.9 830.5,1507.3 831.0,1503.7 831.4,1495.5 831.8,1490.9 832.2,1490.5 832.7,1487.8 833.1,1481.2 835.4,1485.6 837.8,1490.3 840.1,1487.4 842.4,1494.6 844.7,1496.7 847.1,1499.7 849.4,1500.0 850.0,1496.7 850.5,1493.9 851.1,1488.2 851.6,1487.6 852.2,1482.5 852.7,1479.9 853.3,1474.9 853.8,1472.5 854.4,1468.6 854.9,1468.8 855.5,1463.6 856.0,1462.6 856.6,1459.1 857.1,1454.1 857.7,1450.2 858.2,1450.2 858.8,1447.6 860.1,1450.8 861.4,1452.7 862.7,1456.3 864.0,1455.6 865.3,1460.6 866.6,1467.1 867.9,1467.3 869.2,1468.6 870.5,1473.9 871.5,1473.5 872.4,1465.3 873.4,1462.3 874.3,1461.8 875.3,1461.1 876.3,1454.7 877.2,1450.6 878.2,1451.0 879.1,1443.2 880.1,1441.4 881.0,1440.3 882.0,1438.9 883.0,1435.8 883.9,1429.0 884.9,1425.4 885.8,1422.9 886.8,1418.1 888.8,1422.3 890.7,1428.7 892.6,1433.3 894.6,1431.6 896.5,1433.4 898.5,1441.0 899.6,1439.5 900.7,1435.2 901.8,1429.5 902.8,1428.6 903.9,1425.6 905.0,1422.4 906.1,1417.6 907.2,1417.9 908.3,1413.3 909.4,1406.5 910.5,1404.7 911.5,1399.2 912.6,1398.1 913.7,1398.0 914.8,1392.6 916.4,1395.7 918.1,1400.2 919.7,1398.3 921.4,1402.9 923.0,1406.6 924.6,1409.5 926.3,1413.6 927.9,1418.1 929.6,1420.0 931.2,1421.0 933.5,1419.3 935.9,1415.6 938.2,1416.0 940.5,1410.7 942.8,1408.0 945.2,1404.0 947.5,1401.5 948.4,1400.5 949.4,1394.6 950.3,1394.9 951.3,1390.5 952.2,1388.7 953.1,1383.8 954.1,1379.6 955.0,1374.9 956.0,1369.3 956.9,1370.4 960.6,1371.9 964.3,1372.7 968.1,1373.9 971.8,1369.9 975.5,1375.3 977.8,1370.2 980.2,1368.6 982.5,1369.5 984.8,1364.0 987.2,1362.1 989.5,1356.9 992.1,1360.3 994.8,1362.9 997.4,1365.3 1000.0,1369.9 1001.3,1363.4 1002.5,1360.5 1003.8,1357.3 1005.1,1358.6 1006.4,1357.0 1007.6,1352.3 1008.9,1347.5 1010.2,1341.7 1011.5,1343.0 1012.7,1335.4 1014.0,1331.8 1015.4,1337.8 1016.8,1343.2 1018.2,1342.5 1019.6,1349.3 1021.0,1348.8 1022.4,1356.1 1023.8,1357.6 1025.2,1361.5 1026.6,1365.4 1028.0,1367.3 1029.2,1360.0 1030.3,1359.1 1031.5,1356.2 1032.7,1354.3 1033.8,1347.9 1035.0,1347.2 1036.2,1342.2 1037.3,1338.4 1038.5,1337.1 1039.7,1336.5 1040.9,1331.7 1042.0,1327.3 1043.2,1323.3 1044.4,1321.2 1045.5,1318.4 1046.7,1314.4 1048.8,1317.3 1050.9,1319.3 1052.9,1322.4 1055.0,1327.6 1057.1,1329.9 1059.2,1332.5 1061.2,1337.1 1063.3,1337.9 1065.4,1336.9 1067.7,1336.4 1070.1,1334.9 1072.4,1334.1 1074.8,1330.2 1077.1,1324.9 1078.2,1324.5 1079.3,1322.6 1080.3,1320.5 1081.4,1315.1 1082.5,1310.5 1083.6,1306.2 1084.6,1306.3 1085.7,1305.0 1086.8,1297.6 1087.9,1297.3 1088.9,1294.8 1090.0,1291.5 1091.1,1286.2 1092.4,1288.6 1093.8,1291.4 1095.1,1296.7 1096.4,1304.1 1097.7,1304.2 1099.1,1311.4 1100.4,1313.6 1103.1,1309.6 1105.9,1306.3 1108.6,1304.8 1111.3,1304.4 1114.1,1298.6 1116.8,1295.1 1118.7,1303.4 1120.5,1304.8 1122.4,1306.3 1124.2,1309.8 1126.1,1311.0 1127.7,1311.0 1129.2,1309.4 1130.8,1304.4 1132.3,1302.6 1133.9,1299.8 1135.4,1293.9 1137.0,1292.9 1138.5,1292.0 1140.1,1287.2 1144.0,1285.1 1147.9,1289.9 1151.8,1291.4 1153.1,1295.6 1154.5,1298.4 1155.8,1303.2 1157.1,1307.0 1158.4,1305.1 1159.8,1310.2 1161.1,1310.6 1163.4,1314.3 1165.8,1305.6 1168.1,1305.0 1170.4,1303.6 1172.8,1299.6 1175.1,1295.2 1177.0,1300.7 1178.9,1302.0 1180.7,1307.1 1182.6,1311.9 1184.5,1312.3 1187.6,1314.5 1190.7,1316.9 1193.8,1317.4 1197.0,1320.4 1200.1,1322.2 1203.2,1323.9 1205.9,1316.1 1208.5,1315.9 1211.2,1311.1 1213.8,1312.7 1216.5,1308.4 1219.1,1309.1 1221.8,1304.3 1224.7,1308.2 1227.7,1304.7 1230.6,1310.4 1233.5,1310.8 1234.4,1316.9 1235.4,1315.2 1236.3,1318.4 1237.2,1325.8 1238.2,1326.6 1239.1,1330.6 1240.0,1333.6 1240.9,1340.9 1241.9,1341.7 1242.8,1346.4 1244.8,1343.3 1246.7,1340.3 1248.7,1334.4 1250.6,1330.2 1252.5,1328.6 1254.5,1328.1 1256.5,1330.7 1258.4,1330.7 1260.3,1336.3 1262.3,1338.1 1264.2,1335.9 1266.2,1342.6 1269.1,1345.4 1272.1,1342.1 1275.0,1346.1 1277.9,1349.7 1278.2,1352.3 1278.5,1355.9 1278.8,1356.5 1279.1,1361.1 1279.3,1368.8 1279.6,1368.7 1279.9,1373.1 1280.2,1377.4 1283.0,1373.4 1285.8,1372.5 1288.6,1371.2 1291.4,1371.8 1294.2,1369.7 1295.8,1368.3 1297.3,1373.6 1298.9,1378.4 1300.4,1382.5 1302.0,1383.2 1303.5,1387.0 1305.1,1390.2 1306.6,1393.4 1308.2,1398.1 1311.5,1399.6 1314.8,1400.6 1318.0,1395.7 1321.3,1400.6 1324.6,1399.3 1328.5,1400.2 1332.4,1400.5 1336.3,1407.6 1337.2,1410.7 1338.0,1411.4 1338.9,1414.4 1339.8,1415.6 1340.7,1423.8 1341.5,1425.8 1342.4,1425.0 1343.3,1431.0 1346.6,1435.3 1349.8,1431.7 1353.1,1433.8 1356.3,1435.2 1359.6,1436.6 1363.1,1436.6 1366.6,1441.9 1370.1,1441.0 1373.6,1445.7 1376.3,1447.0 1379.0,1452.2 1381.6,1454.3 1384.3,1457.7 1387.0,1455.7 1389.6,1462.8 1392.2,1465.5 1394.8,1465.0 1397.4,1465.8 1400.0,1469.3 1401.4,1477.1 1402.9,1481.8 1404.3,1478.9 1405.7,1483.4 1407.1,1487.8 1408.6,1488.8 1410.0,1496.0 1412.2,1499.9 1414.4,1502.2 1416.5,1500.1 1418.7,1507.6 1420.9,1509.1 1423.1,1507.3 1425.3,1514.5 1427.4,1517.4 1429.6,1519.5 1431.8,1521.1 1433.7,1524.2 1435.6,1524.9 1437.6,1524.0 1439.5,1531.1 1441.4,1532.6 1443.3,1532.8 1445.3,1535.3 1447.2,1543.1 1449.1,1545.8 1452.6,1540.5 1456.0,1540.7 1459.5,1545.8 1462.9,1543.4 1466.4,1547.8 1468.1,1548.2 1469.8,1553.0 1471.4,1551.6 1473.1,1559.7 1474.8,1558.9 1476.5,1563.6 1478.1,1567.1 1479.8,1569.1 1481.5,1571.7 1484.0,1575.6 1486.5,1575.4 1489.0,1578.6 1491.6,1581.0 1494.1,1588.4 1496.6,1587.2 1500.1,1591.8 1503.5,1591.2 1507.0,1586.2 1510.4,1590.9 1513.9,1591.8 1516.1,1590.5 1518.2,1593.2 1520.4,1597.0 1522.6,1598.1 1524.7,1599.0 1526.9,1604.6 1529.0,1603.6 1531.2,1607.1 1534.5,1606.3 1537.7,1610.0 1541.0,1614.9 1544.2,1611.9 1545.6,1615.4 1547.1,1619.9 1548.5,1622.4 1549.9,1623.5 1551.4,1627.0 1552.8,1631.1 1554.2,1638.2 1555.7,1641.3 1557.1,1644.6 1559.3,1640.8 1561.4,1639.8 1563.6,1631.8 1565.7,1631.8 1567.9,1627.1 1570.8,1632.0 1573.7,1629.9 1576.6,1633.2 1579.4,1635.0 1582.3,1637.7 1585.2,1637.8 1587.4,1637.2 1589.5,1641.8 1591.7,1645.2 1593.8,1648.6 1596.0,1646.3 1598.1,1652.0 1600.3,1654.3 1602.4,1652.9 1604.6,1655.0 1607.5,1659.8 1610.4,1661.9 1613.2,1661.8 1616.1,1665.6 1619.0,1664.2 1621.9,1668.9 1625.4,1669.5 1628.8,1672.4 1632.3,1672.5 1635.7,1669.0 1639.2,1673.1 1641.9,1672.1 1644.6,1676.7 1647.3,1679.6 1650.0,1681.6 1652.7,1678.8 1655.4,1684.2 1658.1,1683.7 1660.8,1687.8 1664.0,1689.6 1667.3,1691.3 1670.5,1695.0 1673.7,1693.6 1677.0,1696.6 1680.2,1696.9 1682.4,1693.7 1684.5,1693.8 1686.7,1687.7 1688.9,1689.2 1691.0,1683.4 1693.2,1678.8 1695.1,1686.1 1697.0,1683.5 1698.9,1688.1 1700.8,1693.3 1702.6,1691.6 1704.5,1699.0 1706.4,1700.7 1708.3,1706.2 1711.3,1703.0 1714.3,1707.8 1717.4,1710.1 1720.4,1708.1 1723.4,1706.5 1726.9,1707.9 1730.3,1710.7 1733.8,1704.7 1737.2,1708.6 1740.7,1707.3" fill="none" stroke="#f97e2c" stroke-width="8" stroke-linejoin="round" stroke-linecap="butt"/>
<polyline points="263.5,1972.0 263.9,1971.7 264.4,1968.7 264.9,1965.1 265.3,1956.4 265.8,1956.6 266.2,1952.3 266.6,1949.8 267.1,1943.9 267.6,1941.1 268.0,1939.6 272.0,1937.4 276.0,1938.4 280.0,1934.8 283.2,1934.6 286.4,1938.2 289.6,1935.7 292.8,1935.7 296.0,1936.6 299.5,1932.3 303.0,1928.5 306.5,1931.7 310.0,1928.6 313.5,1928.1 317.0,1926.8 320.5,1928.2 324.0,1923.1 326.8,1924.2 329.6,1919.9 332.4,1919.7 335.2,1918.7 338.0,1914.7 339.7,1910.2 341.4,1909.8 343.1,1908.5 344.9,1904.6 346.6,1900.6 348.3,1899.0 350.0,1892.8 351.0,1889.7 352.0,1887.5 353.0,1887.8 354.0,1880.4 355.0,1876.8 356.0,1873.5 357.0,1870.0 358.0,1868.5 359.4,1867.1 360.9,1865.5 362.3,1858.8 363.8,1855.7 365.2,1851.8 366.4,1848.9 367.6,1849.1 368.8,1844.5 370.0,1839.6 371.2,1835.5 372.4,1837.1 373.6,1833.6 374.8,1831.4 376.0,1824.4 377.2,1823.5 378.4,1823.0 379.6,1817.8 380.8,1817.2 382.0,1808.9 383.1,1811.3 384.1,1801.9 385.1,1801.2 386.2,1795.3 387.2,1797.5 388.3,1793.5 389.4,1792.3 390.4,1788.0 391.4,1785.9 392.5,1779.9 393.6,1779.8 394.6,1775.0 395.6,1769.1 396.7,1770.3 397.8,1763.0 398.8,1758.6 399.9,1754.7 400.9,1754.2 401.9,1749.2 403.0,1751.0 404.3,1748.0 405.6,1739.9 407.0,1736.0 408.3,1735.7 409.6,1730.1 411.0,1729.5 412.3,1728.2 413.6,1721.2 414.7,1719.1 415.9,1719.2 417.0,1712.8 418.1,1708.9 419.3,1709.4 420.4,1705.6 421.5,1703.0 422.6,1698.3 423.8,1693.2 424.9,1691.9 426.0,1689.6 427.2,1685.1 428.3,1679.1 429.2,1676.2 430.1,1673.7 431.0,1672.8 431.9,1668.1 432.8,1664.7 433.7,1663.3 434.6,1655.1 435.5,1655.3 436.4,1650.0 437.3,1648.2 438.2,1646.8 439.1,1639.5 440.0,1641.0 440.9,1631.7 444.6,1636.1 448.2,1637.0 451.9,1635.9 455.6,1639.2 457.3,1641.6 459.0,1644.4 460.6,1649.1 462.3,1647.2 464.0,1652.7 465.7,1658.4 467.4,1657.0 469.0,1664.9 470.7,1663.3 472.4,1669.5 473.6,1663.1 474.8,1662.0 476.1,1658.8 477.3,1653.5 478.5,1654.7 479.8,1650.3 481.0,1648.7 482.2,1644.7 483.4,1641.8 484.7,1638.6 485.9,1634.1 487.1,1635.2 488.7,1632.6 490.2,1640.9 491.8,1643.7 493.4,1644.1 495.0,1648.9 496.6,1651.1 498.1,1653.5 499.7,1654.3 502.6,1656.2 505.6,1658.0 508.5,1659.4 511.5,1665.5 514.4,1663.0 515.7,1666.4 517.1,1669.7 518.4,1675.4 519.8,1676.2 521.1,1679.7 522.5,1680.8 523.8,1684.0 525.2,1685.7 526.5,1689.7 527.9,1693.0 529.2,1700.1 531.3,1695.0 533.4,1689.7 535.5,1689.3 537.6,1684.3 539.7,1684.6 541.8,1681.1 543.9,1681.2 544.9,1680.4 545.8,1687.7 546.8,1686.8 547.7,1695.1 548.7,1695.9 549.6,1695.2 550.6,1703.6 551.5,1703.2 552.5,1707.1 553.4,1708.9 554.4,1716.8 556.1,1714.4 557.8,1721.6 559.4,1722.0 561.1,1726.6 562.8,1726.7 564.5,1728.0 566.2,1736.4 567.8,1737.4 569.5,1736.8 571.2,1745.0 573.8,1746.7 576.5,1743.8 579.1,1744.8 581.7,1751.0 584.3,1749.8 587.0,1756.0 589.6,1756.3 592.2,1760.0 594.3,1761.9 596.4,1766.1 598.5,1769.2 600.6,1770.6 602.7,1773.3 604.8,1774.3 607.7,1774.7 610.7,1776.1 613.6,1783.0 616.6,1780.2 619.5,1783.4 621.1,1785.7 622.8,1790.8 624.4,1793.2 626.0,1798.5 627.7,1798.6 629.3,1801.2 630.9,1806.2 632.6,1809.8 634.2,1814.1 635.9,1813.3 637.6,1820.5 639.2,1824.6 640.9,1827.9 642.6,1825.5 645.1,1829.3 647.7,1834.1 650.2,1836.6 652.8,1833.3 655.3,1837.8 656.3,1843.2 657.4,1846.6 658.5,1848.2 659.5,1849.1 660.5,1853.6 661.6,1854.4 664.6,1857.7 667.7,1860.0 670.7,1864.2 673.7,1864.1 675.7,1865.8 677.8,1867.6 679.8,1871.0 681.9,1876.3 683.9,1877.7 685.9,1878.8 688.0,1886.1 690.0,1887.3 691.6,1893.1 693.1,1893.3 694.7,1897.0 696.3,1898.8 697.8,1903.1 699.4,1908.3 702.9,1908.8 706.4,1906.6 709.9,1905.0 713.4,1902.5 716.5,1909.0 719.6,1907.1 722.7,1908.2 725.8,1907.2 728.9,1908.2 732.0,1911.8 733.3,1918.7 734.6,1920.1 735.8,1922.8 737.1,1925.5 738.4,1925.8 739.7,1928.1 741.0,1934.0 742.3,1933.3 743.5,1939.9 744.8,1942.3 746.1,1945.5 748.1,1940.0 750.1,1936.9 752.1,1937.0 754.1,1932.1 756.1,1932.8 758.1,1927.9 760.1,1927.3 760.9,1931.3 761.6,1933.5 762.4,1936.1 763.2,1936.9 764.0,1941.0 764.8,1948.5 765.5,1946.7 766.3,1950.0 767.1,1954.5 767.9,1958.0 768.6,1962.8 769.4,1962.5 771.0,1963.9 772.5,1954.4 774.1,1956.5 775.7,1951.9 777.2,1951.0 778.8,1942.8 780.4,1943.3 781.9,1942.0 783.5,1936.9 785.3,1936.0 787.1,1944.4 788.9,1947.6 790.7,1944.6 792.6,1952.3 794.4,1950.1 796.2,1952.9 798.0,1960.7 799.8,1963.0 800.7,1961.4 801.5,1956.0 802.4,1951.9 803.3,1947.1 804.2,1945.9 805.0,1945.6 805.9,1940.0 806.8,1938.4 808.8,1936.5 810.7,1942.9 812.6,1945.6 814.6,1943.8 816.5,1951.6 818.5,1950.0 819.9,1953.3 821.3,1955.3 822.7,1962.4 824.1,1961.9 825.5,1970.6 826.9,1967.0 828.3,1975.5 829.7,1978.2 831.1,1979.9 832.5,1983.0 833.3,1981.3 834.1,1976.9 834.8,1970.2 835.6,1971.5 836.4,1965.2 837.2,1963.5 838.0,1959.7 838.7,1959.1 839.5,1952.5 840.3,1952.2 841.1,1943.7 841.9,1942.1 842.6,1941.2 843.4,1937.5 844.2,1935.8 845.8,1934.6 847.3,1941.8 848.9,1944.8 850.4,1943.5 852.0,1946.6 853.5,1952.7 855.1,1958.5 856.6,1959.2 858.2,1961.0 860.0,1958.6 861.7,1957.8 863.5,1952.9 865.2,1950.1 867.0,1947.6 868.7,1946.9 870.5,1943.1 872.2,1940.5 874.0,1933.7 875.7,1933.0 877.5,1931.6 879.2,1928.0 880.5,1932.7 881.8,1935.5 883.1,1933.3 884.4,1939.0 885.7,1941.1 887.0,1943.2 888.3,1948.3 889.6,1954.7 890.9,1956.3 892.0,1948.6 893.1,1946.5 894.2,1944.1 895.3,1944.5 896.4,1938.4 897.5,1933.2 898.6,1932.7 899.7,1927.5 900.7,1922.9 901.8,1923.5 902.9,1923.1 904.0,1918.5 905.1,1915.0 906.2,1907.9 907.3,1907.5 908.4,1904.9 909.5,1902.6 910.8,1903.8 912.2,1904.4 913.5,1913.7 914.9,1912.6 916.2,1919.1 917.6,1920.6 918.9,1926.1 921.2,1920.8 923.6,1916.7 925.9,1916.7 928.3,1914.7 930.6,1914.5 931.0,1908.4 931.3,1906.8 931.7,1901.4 932.0,1900.4 932.4,1893.2 932.7,1894.6 933.1,1891.6 933.4,1881.9 933.8,1884.2 934.1,1880.2 934.5,1876.2 934.8,1868.8 935.2,1869.7 939.1,1870.7 943.0,1870.6 946.9,1873.7 948.8,1870.3 950.7,1864.8 952.5,1863.6 954.4,1855.0 956.3,1852.7 959.8,1853.1 963.3,1851.9 966.8,1853.7 970.3,1850.3 971.0,1847.1 971.6,1843.9 972.3,1842.9 973.0,1836.1 973.6,1835.2 974.3,1831.1 975.0,1826.6 975.6,1823.0 976.3,1818.6 976.9,1814.4 977.6,1813.5 978.3,1810.1 978.9,1805.4 979.6,1805.0 983.1,1802.3 986.6,1804.4 990.1,1801.7 993.6,1799.1 994.3,1797.0 994.9,1789.8 995.6,1785.4 996.3,1785.4 997.0,1779.5 997.6,1781.3 998.3,1774.2 999.0,1774.0 999.6,1766.3 1000.3,1762.0 1001.0,1762.2 1001.7,1759.4 1002.3,1753.1 1003.0,1754.3 1006.5,1755.2 1010.0,1753.8 1013.5,1756.4 1017.0,1757.0 1018.2,1748.2 1019.5,1749.1 1020.7,1746.1 1022.0,1742.9 1023.2,1737.2 1024.4,1735.5 1025.7,1732.7 1026.9,1731.4 1028.5,1722.8 1030.0,1721.9 1031.6,1718.4 1033.1,1718.5 1034.7,1710.8 1036.2,1707.3 1037.5,1704.6 1038.8,1701.4 1040.1,1700.5 1041.4,1700.3 1042.7,1693.7 1044.0,1688.9 1045.3,1689.6 1046.6,1684.2 1047.9,1682.7 1051.2,1682.5 1054.5,1679.1 1057.7,1679.6 1061.0,1677.4 1064.3,1677.6 1065.6,1673.8 1066.8,1671.6 1068.1,1667.3 1069.4,1661.0 1070.7,1659.3 1071.9,1658.0 1073.2,1654.9 1074.5,1651.3 1075.8,1648.9 1077.0,1645.6 1078.3,1640.5 1081.4,1643.5 1084.5,1641.8 1087.6,1647.0 1088.2,1645.6 1088.9,1643.6 1089.5,1640.0 1090.1,1634.1 1090.8,1629.5 1091.4,1630.7 1092.1,1626.0 1092.7,1619.6 1093.3,1615.4 1094.0,1618.0 1094.6,1612.7 1096.8,1606.6 1098.9,1609.6 1101.1,1604.0 1103.2,1602.2 1105.4,1599.6 1107.5,1592.9 1109.7,1591.8 1110.9,1592.9 1112.1,1599.4 1113.2,1601.7 1114.4,1607.6 1115.6,1606.5 1116.8,1610.6 1118.2,1608.8 1119.6,1603.1 1121.0,1602.8 1122.4,1603.6 1123.8,1599.9 1125.2,1592.2 1126.6,1593.6 1128.0,1586.4 1129.4,1583.5 1130.8,1583.1 1133.1,1578.1 1135.5,1574.7 1137.8,1571.2 1140.1,1569.1 1142.5,1566.5 1144.8,1568.7 1146.7,1560.0 1148.5,1560.6 1150.4,1555.5 1152.2,1556.2 1154.1,1548.5 1155.7,1554.1 1157.2,1559.7 1158.8,1558.0 1160.4,1563.8 1161.9,1566.3 1163.5,1570.5 1164.8,1568.3 1166.0,1561.4 1167.3,1563.5 1168.6,1556.3 1169.9,1556.5 1171.1,1549.0 1172.4,1545.5 1173.7,1543.0 1175.0,1539.1 1176.2,1537.0 1177.5,1533.0 1180.3,1530.8 1183.1,1534.2 1185.9,1530.1 1188.7,1528.0 1191.5,1526.3 1195.0,1528.3 1198.5,1523.1 1202.0,1523.1 1205.5,1527.3 1206.7,1526.0 1207.8,1532.5 1209.0,1536.4 1210.2,1541.0 1211.3,1538.4 1212.5,1544.2 1213.0,1540.5 1213.5,1539.1 1214.0,1532.2 1214.5,1533.9 1215.0,1532.2 1215.5,1526.2 1216.0,1523.8 1216.5,1521.8 1217.0,1518.7 1217.5,1515.4 1218.0,1509.9 1218.5,1504.0 1219.0,1505.7 1219.5,1502.8 1222.6,1504.2 1225.7,1503.9 1228.8,1510.7 1230.2,1505.1 1231.6,1499.7 1233.0,1499.7 1234.4,1492.6 1235.8,1489.4 1236.6,1497.1 1237.4,1494.4 1238.1,1503.0 1238.9,1502.9 1239.7,1507.2 1240.5,1511.2 1241.2,1515.7 1242.0,1514.2 1242.8,1516.4 1245.2,1516.4 1247.5,1511.5 1249.8,1509.9 1252.2,1504.8 1256.8,1503.6 1261.5,1505.7 1262.8,1498.8 1264.2,1496.9 1265.5,1494.4 1266.9,1489.1 1268.2,1490.6 1269.6,1487.9 1270.9,1478.6 1271.7,1487.0 1272.5,1485.8 1273.2,1492.7 1274.0,1491.3 1274.8,1499.1 1275.6,1503.4 1276.3,1502.0 1277.1,1504.5 1277.9,1508.8 1278.7,1515.4 1279.4,1518.0 1280.2,1516.9 1282.5,1519.6 1284.9,1516.2 1287.2,1515.3 1289.6,1513.1 1291.9,1505.2 1294.3,1506.8 1296.6,1499.7 1298.5,1503.6 1300.3,1508.7 1302.2,1509.5 1304.0,1512.2 1305.9,1515.9 1307.5,1513.8 1309.0,1514.0 1310.6,1508.9 1312.1,1505.9 1313.7,1504.1 1315.2,1497.6 1316.8,1499.0 1318.3,1495.8 1319.9,1493.3 1320.4,1494.2 1320.9,1498.2 1321.4,1498.3 1321.9,1504.3 1322.4,1508.9 1322.9,1514.3 1323.4,1517.2 1323.9,1516.8 1324.4,1523.0 1324.9,1527.0 1325.4,1531.0 1325.9,1532.5 1326.4,1533.4 1326.9,1540.4 1328.8,1531.3 1330.7,1531.8 1332.5,1527.8 1334.4,1527.4 1336.3,1522.3 1337.7,1522.5 1339.1,1525.3 1340.5,1527.5 1341.9,1535.4 1343.3,1538.6 1344.7,1538.9 1346.1,1540.9 1347.5,1546.2 1348.9,1546.8 1350.3,1552.1 1351.2,1547.6 1352.2,1544.1 1353.1,1543.4 1354.0,1537.1 1354.9,1534.4 1355.9,1532.7 1356.8,1532.0 1357.7,1523.4 1358.7,1521.2 1359.6,1517.7 1360.3,1521.1 1360.9,1525.5 1361.6,1530.9 1362.3,1529.7 1362.9,1536.5 1363.6,1537.8 1364.2,1541.9 1364.9,1544.6 1365.6,1548.4 1366.2,1548.7 1366.9,1554.9 1367.6,1556.6 1368.2,1562.4 1368.9,1564.3 1370.9,1560.3 1372.9,1561.6 1374.9,1553.4 1377.0,1549.6 1379.0,1547.7 1381.0,1548.9 1383.0,1542.1 1383.8,1549.9 1384.6,1549.0 1385.4,1553.9 1386.2,1559.5 1387.0,1558.9 1387.8,1565.1 1388.6,1572.4 1391.3,1572.7 1394.0,1572.6 1396.7,1578.3 1399.4,1578.2 1400.6,1576.4 1401.9,1569.8 1403.1,1566.7 1404.4,1565.5 1405.6,1562.5 1406.9,1558.6 1408.1,1551.5 1409.3,1556.5 1410.4,1559.0 1411.6,1561.6 1412.7,1563.9 1413.9,1571.4 1415.1,1570.4 1416.2,1575.0 1417.4,1575.9 1418.6,1583.7 1419.7,1586.4 1420.9,1585.8 1422.0,1594.9 1423.2,1598.4 1425.4,1594.1 1427.5,1591.9 1429.7,1588.6 1431.8,1581.3 1434.0,1580.5 1435.4,1583.1 1436.9,1584.5 1438.3,1591.6 1439.8,1594.1 1441.2,1595.5 1442.7,1601.0 1444.1,1600.3 1445.6,1603.5 1447.0,1605.3 1449.2,1603.6 1451.3,1605.3 1453.5,1600.4 1455.6,1599.6 1457.8,1598.0 1459.9,1594.2 1462.1,1589.7 1462.7,1596.9 1463.3,1594.0 1463.9,1599.4 1464.5,1605.8 1465.1,1607.6 1465.6,1608.5 1466.2,1614.8 1466.8,1617.5 1467.4,1620.4 1468.0,1620.5 1468.6,1626.4 1470.8,1623.7 1472.9,1622.5 1475.0,1617.7 1477.2,1618.1 1479.3,1614.1 1481.5,1608.1 1483.1,1613.6 1484.8,1614.0 1486.4,1619.8 1488.0,1620.8 1489.6,1628.3 1491.2,1626.8 1492.9,1632.8 1494.5,1636.1 1496.7,1629.9 1498.8,1628.4 1501.0,1622.9 1503.1,1620.9 1505.3,1618.3 1505.7,1623.4 1506.2,1625.2 1506.6,1626.1 1507.0,1632.7 1507.4,1635.0 1507.9,1638.3 1508.3,1641.0 1508.7,1647.1 1509.2,1648.9 1509.6,1652.2 1512.8,1651.1 1516.1,1650.4 1519.3,1650.6 1522.6,1652.3 1526.0,1649.4 1529.5,1645.6 1532.9,1645.3 1536.4,1642.9 1539.8,1641.5 1540.5,1646.9 1541.1,1650.2 1541.8,1654.0 1542.4,1655.5 1543.0,1659.0 1543.7,1663.7 1544.3,1665.9 1545.0,1668.9 1545.6,1673.7 1546.3,1678.8 1549.5,1671.9 1552.8,1669.4 1556.0,1670.2 1559.3,1671.1 1562.3,1668.0 1565.3,1664.9 1568.4,1667.7 1571.4,1664.4 1574.4,1664.1 1576.3,1667.0 1578.1,1664.3 1580.0,1668.2 1581.8,1675.0 1583.7,1675.1 1585.5,1681.3 1587.4,1678.5 1590.6,1684.4 1593.8,1682.2 1597.1,1680.8 1600.3,1683.6 1601.5,1685.0 1602.8,1687.9 1604.0,1689.4 1605.3,1696.9 1606.5,1695.9 1607.8,1700.4 1609.0,1702.3 1610.5,1698.7 1612.1,1697.5 1613.6,1692.7 1615.2,1692.5 1616.7,1688.6 1618.3,1683.3 1619.8,1683.3 1621.6,1685.3 1623.4,1688.2 1625.2,1693.5 1627.0,1695.4 1628.8,1696.7 1630.6,1705.9 1634.0,1705.3 1637.5,1699.5 1640.9,1701.4 1644.4,1700.1 1647.8,1696.9 1651.4,1699.6 1655.0,1698.5 1658.6,1699.3 1660.3,1703.6 1662.0,1704.0 1663.7,1708.3 1665.4,1716.6 1667.0,1718.2 1668.7,1718.4 1670.4,1726.0 1672.1,1724.6 1673.8,1731.3 1675.9,1725.1 1678.1,1726.4 1680.2,1720.8 1682.4,1721.0 1684.5,1713.4 1685.6,1718.4 1686.7,1721.3 1687.8,1727.5 1688.8,1731.3 1689.9,1729.6 1691.0,1734.7 1692.1,1736.3 1693.2,1738.8 1695.0,1736.5 1696.9,1733.4 1698.7,1732.1 1700.6,1730.2 1702.4,1730.7 1704.3,1726.2 1706.1,1724.2 1708.3,1723.8 1710.4,1726.2 1712.6,1729.4 1714.8,1730.6 1716.9,1731.7 1719.1,1736.0 1722.7,1739.7 1726.3,1733.0 1729.9,1735.4 1732.1,1736.6 1734.2,1743.2 1736.4,1741.3 1738.5,1747.5 1740.7,1750.5" fill="none" stroke="#a3a3a3" stroke-width="8" stroke-linejoin="round" stroke-linecap="butt"/>
<polyline points="263.5,1967.0 263.5,1968.3 263.5,1967.8 263.5,1950.0 263.5,1964.6 263.5,1943.6 263.5,1950.8 263.5,1934.7 263.5,1946.0 263.5,1929.3 263.5,1938.2 263.5,1935.3 263.5,1932.9 263.5,1922.4 263.5,1928.4 263.5,1927.7 263.5,1905.2 263.5,1910.7 263.5,1917.1 264.8,1916.8 266.0,1914.8 267.7,1914.9 269.3,1932.3 271.0,1916.4 272.7,1934.4 274.3,1939.4 276.0,1927.5 279.5,1931.4 283.0,1931.2 286.5,1936.7 290.0,1933.1 292.8,1943.1 295.6,1942.1 298.4,1927.2 301.2,1938.3 304.0,1918.5 307.2,1918.3 310.4,1930.0 313.6,1932.2 316.8,1931.8 320.0,1934.8 323.8,1930.7 327.5,1916.4 331.2,1925.6 335.0,1928.3 337.5,1907.3 340.0,1913.5 342.5,1908.4 345.0,1905.6 346.2,1904.8 347.4,1903.0 348.6,1902.0 349.8,1893.2 350.8,1892.7 351.7,1893.0 352.7,1888.3 353.6,1883.7 354.6,1878.6 355.5,1878.2 356.5,1872.6 357.4,1872.2 358.4,1869.1 359.3,1864.3 360.3,1864.0 363.8,1860.0 367.3,1859.1 370.8,1860.3 372.0,1853.0 373.2,1849.2 374.4,1848.5 375.6,1844.2 376.8,1843.9 378.0,1836.3 379.1,1833.8 380.3,1828.4 381.4,1827.8 382.6,1823.6 383.7,1821.2 384.8,1820.1 386.0,1811.8 387.1,1815.0 388.3,1809.8 389.4,1807.2 392.0,1802.1 394.6,1799.1 395.8,1795.0 397.1,1791.9 398.3,1787.8 399.5,1785.4 400.8,1782.3 402.0,1779.6 403.2,1780.5 404.5,1776.8 405.7,1772.8 406.9,1765.6 408.2,1764.3 409.4,1763.2 411.0,1761.2 412.7,1756.3 414.3,1754.7 415.9,1753.5 417.6,1746.1 419.2,1743.8 420.8,1743.4 422.5,1737.3 424.1,1737.0 426.6,1732.0 429.0,1726.6 431.5,1726.8 433.9,1721.4 436.4,1723.4 438.8,1721.0 441.3,1716.4 443.8,1716.4 446.4,1709.2 448.9,1708.3 451.4,1703.9 452.7,1699.7 453.9,1701.6 455.2,1693.0 456.4,1695.6 457.7,1689.7 458.8,1693.8 459.8,1692.5 460.9,1701.5 461.9,1703.9 462.9,1702.4 464.0,1706.0 465.1,1708.9 466.1,1714.5 469.2,1709.5 472.4,1712.3 475.6,1708.2 478.7,1707.5 482.2,1704.4 485.7,1707.1 489.2,1705.8 490.4,1710.1 491.6,1711.5 492.8,1718.4 494.0,1720.5 495.2,1723.4 496.4,1723.0 497.6,1725.0 499.0,1727.9 500.4,1730.9 501.8,1739.7 503.2,1738.2 504.6,1745.4 506.0,1744.2 507.2,1749.9 508.3,1750.4 509.5,1753.8 510.7,1759.9 511.8,1762.0 513.0,1767.3 514.2,1765.5 515.3,1768.8 516.5,1770.4 519.9,1770.2 523.3,1774.1 526.6,1770.1 530.0,1768.2 533.4,1766.0 534.9,1772.2 536.4,1775.0 537.9,1774.7 539.4,1777.2 540.9,1781.4 542.4,1789.1 543.9,1791.8 547.0,1789.9 550.2,1791.5 553.4,1793.6 556.5,1797.7 557.4,1801.5 558.2,1801.4 559.1,1805.3 560.0,1808.0 560.9,1816.2 561.8,1816.8 562.6,1822.8 563.5,1821.3 564.4,1827.3 565.2,1830.2 566.1,1836.0 567.0,1835.5 569.6,1832.5 572.2,1834.4 574.9,1833.2 577.5,1828.1 578.5,1830.1 579.4,1831.6 580.4,1837.3 581.4,1843.8 582.3,1843.2 583.3,1847.0 584.3,1851.1 585.3,1852.1 586.2,1854.4 587.2,1860.4 588.2,1866.7 589.1,1869.3 590.1,1868.7 592.2,1868.8 594.3,1866.0 596.4,1861.1 598.5,1856.4 600.8,1857.7 603.2,1863.5 605.5,1865.7 607.8,1864.8 610.2,1866.6 612.5,1868.8 614.8,1876.0 617.2,1878.7 619.5,1878.5 623.2,1877.6 626.9,1876.7 630.5,1871.3 634.2,1872.2 635.7,1874.7 637.3,1880.5 638.8,1878.6 640.3,1886.2 641.9,1884.3 643.4,1890.5 644.9,1895.3 646.5,1892.7 648.0,1898.4 649.2,1892.1 650.3,1892.5 651.5,1889.3 652.7,1889.5 653.9,1883.2 655.0,1883.0 656.2,1878.8 657.4,1876.5 658.5,1870.1 659.7,1865.4 663.0,1870.9 666.2,1869.2 669.5,1874.6 672.7,1873.4 676.0,1878.2 679.3,1878.4 682.6,1878.8 685.8,1872.6 689.1,1871.5 692.4,1872.3 694.7,1873.1 697.0,1865.3 699.4,1863.9 701.7,1860.3 702.7,1854.8 703.8,1854.6 704.8,1849.7 705.8,1847.4 706.9,1845.9 707.9,1842.0 708.9,1835.8 710.0,1835.2 711.0,1831.0 712.2,1829.6 713.3,1821.3 714.5,1820.2 715.7,1819.8 716.9,1816.0 718.0,1812.6 719.2,1809.7 720.4,1807.3 721.5,1805.0 722.7,1802.7 725.0,1800.0 727.4,1798.5 729.7,1793.9 732.1,1788.8 734.4,1787.8 736.0,1788.0 737.5,1784.3 739.1,1780.2 740.7,1773.7 742.2,1770.8 743.8,1771.1 745.0,1766.4 746.1,1761.7 747.3,1763.9 748.5,1755.8 749.6,1757.4 750.8,1752.2 751.6,1751.4 752.4,1747.0 753.1,1740.0 753.9,1737.1 754.7,1738.3 755.5,1732.3 756.2,1729.6 757.0,1728.2 757.8,1724.1 759.5,1721.4 761.3,1716.5 763.0,1711.3 764.8,1710.8 765.6,1703.5 766.4,1704.4 767.3,1701.6 768.1,1694.0 768.9,1689.8 769.8,1692.8 770.6,1684.6 771.4,1683.7 772.2,1678.8 773.1,1674.6 773.9,1672.2 774.7,1667.7 776.1,1676.2 777.5,1679.0 778.9,1682.3 780.3,1681.2 781.7,1685.7 782.4,1680.9 783.2,1682.8 783.9,1680.5 784.6,1677.1 785.4,1673.2 786.1,1668.4 786.8,1664.4 787.5,1658.6 788.3,1654.8 789.0,1655.6 789.7,1654.7 790.5,1651.6 791.2,1644.6 791.9,1642.1 792.7,1641.3 793.4,1634.0 794.9,1634.2 796.3,1630.4 797.8,1626.3 799.2,1623.1 800.7,1618.6 802.2,1615.6 803.6,1613.7 805.1,1615.5 806.7,1611.3 808.4,1602.8 810.0,1604.8 811.6,1597.6 813.2,1597.5 814.9,1596.8 816.5,1593.7 818.1,1590.5 819.8,1588.2 821.4,1582.7 824.3,1576.9 827.2,1576.6 830.2,1577.7 833.1,1575.5 834.6,1574.7 836.0,1566.7 837.5,1568.7 839.0,1563.7 840.4,1560.9 841.9,1554.7 843.3,1553.4 844.8,1551.6 846.5,1550.3 848.3,1546.9 850.0,1543.7 851.8,1541.2 853.5,1535.9 855.3,1532.8 857.0,1534.3 858.8,1529.3 862.1,1528.5 865.3,1531.3 868.6,1530.6 871.8,1529.6 875.1,1531.4 877.0,1524.2 879.0,1524.8 881.0,1519.3 882.9,1515.1 884.8,1511.9 886.8,1506.3 890.7,1512.0 894.6,1512.6 898.5,1508.6 900.8,1509.8 903.2,1501.6 905.5,1501.3 907.9,1502.3 910.2,1497.2 912.5,1491.3 914.9,1491.9 917.2,1485.2 919.9,1491.9 922.6,1492.9 925.4,1495.2 928.1,1497.4 930.8,1495.4 933.5,1502.7 936.4,1499.9 939.4,1498.7 942.3,1492.2 945.2,1490.1 948.1,1491.4 951.0,1490.7 954.0,1486.3 956.9,1482.1 960.2,1482.4 963.6,1480.0 966.9,1480.7 970.2,1482.9 973.5,1480.0 976.9,1475.8 980.2,1479.6 983.5,1478.3 986.8,1473.9 990.1,1470.1 993.4,1473.5 996.7,1470.1 1000.0,1467.7 1001.8,1470.1 1003.5,1463.7 1005.2,1459.1 1007.0,1457.0 1008.8,1458.9 1010.5,1451.6 1012.2,1449.5 1014.0,1445.1 1015.9,1446.8 1017.8,1449.9 1019.6,1452.2 1021.5,1457.7 1023.4,1460.3 1025.7,1459.5 1028.1,1457.6 1030.4,1455.2 1032.7,1447.5 1035.1,1447.6 1037.4,1442.1 1039.7,1440.2 1042.1,1437.9 1044.4,1435.0 1046.7,1435.1 1049.5,1434.6 1052.3,1435.2 1055.1,1440.5 1057.9,1440.5 1060.7,1447.3 1062.7,1438.8 1064.7,1436.2 1066.7,1432.5 1068.7,1431.1 1070.7,1431.4 1072.7,1423.6 1074.7,1424.2 1076.4,1429.2 1078.0,1427.7 1079.7,1434.2 1081.4,1437.0 1083.1,1441.6 1084.7,1443.9 1086.4,1445.4 1087.6,1440.9 1088.7,1437.4 1089.9,1432.6 1091.1,1429.0 1092.2,1429.9 1093.4,1424.3 1094.6,1420.3 1095.7,1419.4 1096.9,1414.0 1098.1,1414.3 1099.2,1413.3 1100.4,1406.2 1103.3,1401.6 1106.2,1400.2 1109.2,1398.9 1112.1,1400.4 1114.8,1403.2 1117.5,1403.2 1120.2,1404.1 1123.0,1404.4 1125.7,1411.8 1128.4,1408.6 1131.7,1408.8 1135.0,1410.6 1138.2,1408.9 1141.5,1404.1 1144.8,1408.1 1146.7,1408.6 1148.5,1411.7 1150.4,1411.4 1152.2,1418.0 1154.1,1415.6 1154.9,1416.4 1155.7,1409.3 1156.4,1411.4 1157.2,1406.9 1158.0,1403.7 1158.8,1399.2 1159.6,1398.9 1160.4,1390.7 1161.2,1388.4 1161.9,1384.3 1162.7,1385.4 1163.5,1378.4 1166.4,1380.4 1169.3,1388.5 1172.2,1387.2 1175.1,1389.9 1177.4,1395.8 1179.8,1395.5 1182.1,1401.5 1184.5,1405.3 1186.8,1402.1 1190.5,1403.5 1194.3,1402.4 1198.0,1404.6 1201.8,1407.3 1205.5,1410.4 1208.8,1407.2 1212.0,1404.9 1215.3,1399.1 1218.5,1402.6 1221.8,1397.3 1225.7,1398.9 1229.6,1394.1 1233.5,1398.6 1237.0,1393.5 1240.5,1391.7 1244.0,1394.4 1247.5,1391.9 1249.8,1387.8 1252.2,1385.8 1254.5,1385.4 1256.9,1380.6 1259.2,1379.3 1260.5,1382.1 1261.9,1384.4 1263.2,1387.1 1264.5,1389.5 1265.8,1396.1 1267.2,1398.2 1268.5,1397.9 1271.8,1399.7 1275.1,1403.1 1278.3,1406.3 1281.6,1407.6 1284.9,1410.4 1288.6,1410.8 1292.4,1408.0 1296.1,1406.5 1299.9,1410.5 1303.6,1409.7 1304.6,1411.6 1305.6,1418.7 1306.6,1417.0 1307.6,1420.2 1308.6,1427.0 1309.6,1428.7 1310.6,1433.8 1313.9,1429.1 1317.1,1430.8 1320.4,1430.8 1323.6,1428.6 1326.9,1425.7 1327.9,1428.6 1328.9,1433.5 1329.9,1436.7 1330.9,1444.1 1331.9,1441.9 1332.9,1449.8 1333.9,1454.6 1337.2,1451.6 1340.5,1449.2 1343.7,1452.3 1347.0,1454.4 1350.3,1450.9 1353.6,1454.0 1356.8,1451.4 1360.1,1452.6 1363.3,1454.2 1366.6,1456.8 1368.9,1461.4 1371.3,1458.5 1373.6,1460.0 1376.0,1463.8 1378.3,1468.8 1380.4,1471.9 1382.5,1473.7 1384.6,1477.8 1386.7,1479.1 1388.9,1479.7 1391.0,1488.0 1393.1,1486.6 1395.2,1487.2 1397.3,1491.2 1399.9,1494.4 1402.5,1500.1 1405.0,1499.8 1407.6,1501.6 1410.2,1507.7 1412.2,1510.3 1414.1,1513.1 1416.0,1513.2 1418.0,1520.4 1420.0,1521.4 1421.9,1523.1 1423.9,1528.9 1425.8,1527.1 1427.8,1530.3 1429.7,1535.0 1431.9,1532.4 1434.0,1529.7 1436.2,1523.9 1438.3,1525.8 1440.5,1524.7 1443.0,1522.7 1445.5,1528.1 1448.0,1525.5 1450.6,1527.5 1453.1,1533.0 1455.6,1537.5 1458.6,1536.2 1461.6,1535.3 1464.7,1536.0 1467.7,1542.5 1470.7,1542.4 1472.5,1547.6 1474.3,1545.9 1476.1,1552.5 1477.9,1551.7 1479.7,1554.6 1481.5,1559.7 1484.8,1559.0 1488.0,1561.5 1491.2,1558.8 1494.5,1557.7 1497.8,1561.2 1501.0,1560.7 1501.9,1561.0 1502.7,1566.4 1503.6,1564.9 1504.4,1569.6 1505.3,1576.6 1506.2,1577.2 1507.0,1577.8 1507.9,1581.7 1508.7,1589.4 1509.6,1589.2 1510.5,1596.5 1511.3,1599.5 1512.2,1600.0 1513.0,1605.1 1513.9,1604.8 1515.8,1604.7 1517.6,1596.6 1519.5,1596.5 1521.3,1590.2 1523.2,1588.8 1525.0,1590.3 1526.9,1585.1 1529.1,1583.8 1531.2,1591.9 1533.4,1594.8 1535.6,1598.1 1537.7,1597.3 1539.9,1598.0 1542.0,1604.9 1544.2,1606.4 1548.0,1603.3 1551.8,1606.8 1555.5,1608.2 1559.3,1609.8 1563.1,1609.3 1566.8,1607.7 1570.6,1606.7 1574.4,1607.0 1576.6,1610.0 1578.7,1614.5 1580.9,1616.9 1583.1,1623.0 1585.2,1622.7 1587.4,1627.4 1590.0,1628.6 1592.6,1630.9 1595.1,1634.0 1597.7,1636.3 1600.3,1637.3 1604.1,1636.0 1607.8,1638.4 1611.6,1634.3 1615.4,1634.4 1617.2,1636.3 1619.0,1639.7 1620.8,1642.0 1622.6,1645.4 1624.4,1649.2 1626.2,1654.7 1630.0,1656.1 1633.8,1653.2 1637.6,1653.1 1641.4,1651.3 1644.3,1650.2 1647.1,1655.5 1650.0,1656.0 1652.9,1656.6 1655.7,1660.7 1658.6,1662.9 1661.5,1655.4 1664.4,1652.2 1667.2,1652.4 1670.1,1651.6 1673.0,1649.0 1675.9,1645.4 1677.0,1648.4 1678.1,1652.9 1679.1,1653.7 1680.2,1659.7 1681.3,1665.7 1682.4,1668.8 1683.5,1671.4 1684.5,1670.6 1685.6,1675.2 1686.7,1676.6 1690.0,1675.5 1693.2,1672.8 1696.5,1671.4 1699.7,1674.2 1702.3,1673.7 1704.9,1679.1 1707.4,1680.4 1710.0,1681.5 1712.6,1686.8 1715.1,1683.1 1717.7,1678.6 1720.2,1676.6 1722.7,1675.6 1725.3,1671.3 1727.8,1670.5 1730.0,1672.2 1732.1,1678.6 1734.2,1675.8 1736.4,1682.6 1738.5,1680.9 1740.7,1685.7" fill="none" stroke="#ffc402" stroke-width="8" stroke-linejoin="round" stroke-linecap="butt"/>
<rect x="126.5" y="1179.3" width="1616.5" height="3.2" fill="#333"/>
<rect x="126.5" y="1179.3" width="3" height="878" fill="#333"/>
<rect x="1739.7" y="1179.3" width="3.3" height="878" fill="#333"/>
<rect x="126.5" y="2052.5" width="1616.5" height="5.2" fill="#6e6e6e"/>
<rect x="395.2" y="2034" width="4" height="19" fill="#666"/>
<rect x="664.0" y="2034" width="4" height="19" fill="#666"/>
<rect x="932.8" y="2034" width="4" height="19" fill="#666"/>
<rect x="1201.5" y="2034" width="4" height="19" fill="#666"/>
<rect x="1470.2" y="2034" width="4" height="19" fill="#666"/>
<text x="129" y="2150" font-size="57" text-anchor="middle" textLength="28.7" lengthAdjust="spacingAndGlyphs" >0</text>
<text x="395.7" y="2150" font-size="57" text-anchor="middle" textLength="88" lengthAdjust="spacingAndGlyphs" >100</text>
<text x="665.2" y="2150" font-size="57" text-anchor="middle" textLength="90" lengthAdjust="spacingAndGlyphs" >200</text>
<text x="934.3" y="2150" font-size="57" text-anchor="middle" textLength="90" lengthAdjust="spacingAndGlyphs" >300</text>
<text x="1203.2" y="2150" font-size="57" text-anchor="middle" textLength="90" lengthAdjust="spacingAndGlyphs" >400</text>
<text x="1471.5" y="2150" font-size="57" text-anchor="middle" textLength="90" lengthAdjust="spacingAndGlyphs" >500</text>
<text x="1741" y="2150" font-size="57" text-anchor="middle" textLength="90" lengthAdjust="spacingAndGlyphs" >600</text>
<text x="944.1" y="2241" font-size="46" text-anchor="middle" textLength="354.4" lengthAdjust="spacingAndGlyphs" >Temperature (°C)</text>
<text transform="translate(55,1798.7) rotate(-90)" font-size="45" textLength="348.3" lengthAdjust="spacingAndGlyphs">CO<tspan font-size="31" dy="4">2</tspan><tspan dy="-4"> uptake (a.u.)</tspan></text>
<rect x="144.3" y="1227.5" width="66.19999999999999" height="9" fill="#2e6bb6"/>
<text x="250" y="1252" font-size="46.5" textLength="367.6" lengthAdjust="spacingAndGlyphs">20% Cu -Al<tspan font-size="33" dy="4">2</tspan><tspan dy="-4">O</tspan><tspan font-size="33" dy="4">3</tspan><tspan dy="-4"> (8h)</tspan></text>
<rect x="144.3" y="1313.1" width="63.69999999999999" height="9" fill="#f97e2c"/>
<text x="247" y="1336.4" font-size="46.5" textLength="367.6" lengthAdjust="spacingAndGlyphs">20% Cu -Al <tspan font-size="33" dy="4">2</tspan><tspan dy="-4">O</tspan><tspan font-size="33" dy="4">3</tspan><tspan dy="-4"> (4h)</tspan></text>
<rect x="144.3" y="1402.5" width="63.69999999999999" height="9" fill="#a3a3a3"/>
<text x="252.2" y="1418" font-size="46.5" textLength="329.6" lengthAdjust="spacingAndGlyphs">1% Cu-Al<tspan font-size="33" dy="4">2</tspan><tspan dy="-4">O</tspan><tspan font-size="33" dy="4">3</tspan><tspan dy="-4">(4h)</tspan></text>
<rect x="144.3" y="1491.2" width="66.19999999999999" height="9" fill="#ffc402"/>
<text x="243" y="1509.6" font-size="46.5" textLength="328.6" lengthAdjust="spacingAndGlyphs">1% Pt-Al<tspan font-size="33" dy="4">2</tspan><tspan dy="-4">O</tspan><tspan font-size="33" dy="4">3</tspan><tspan dy="-4"> (4h)</tspan></text>
<rect x="1639.4" y="1185.8" width="87.6" height="97.9" fill="#fff" stroke="none"/>
<rect x="1641.2" y="1187.6" width="84" height="94.3" fill="none" stroke="#222" stroke-width="3.6"/>
<text x="1688" y="1251.5" font-size="47" text-anchor="middle" font-weight="bold">b</text>
</svg>
</body></html>
